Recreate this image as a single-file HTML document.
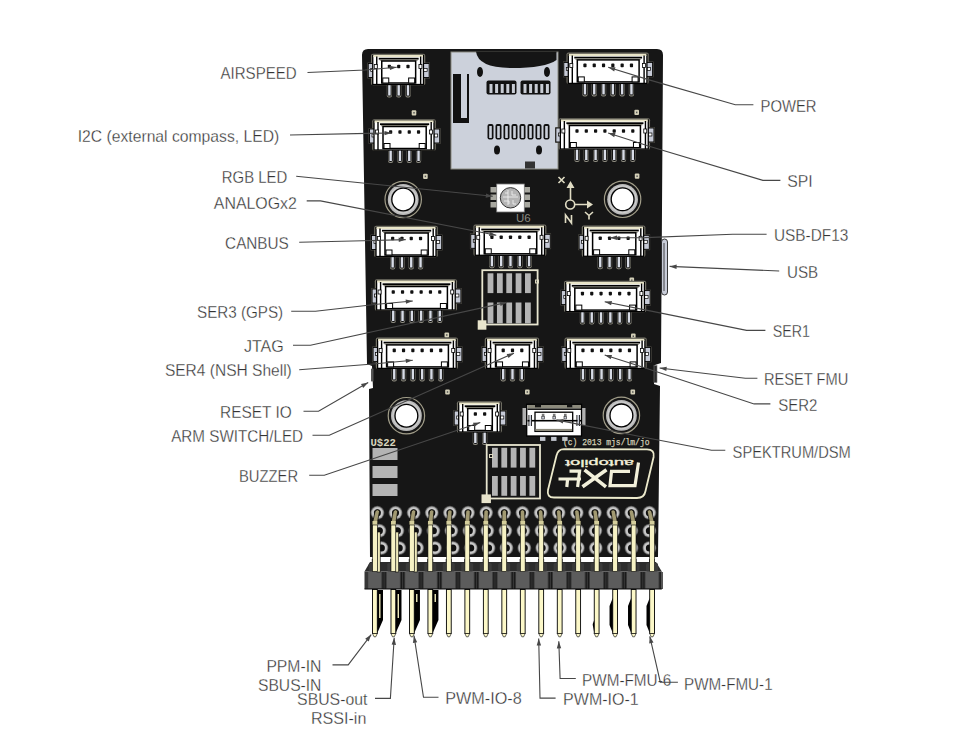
<!DOCTYPE html><html><head><meta charset="utf-8"><style>html,body{margin:0;padding:0;background:#fff;width:957px;height:749px;overflow:hidden}svg{display:block}text{font-family:"Liberation Sans",sans-serif;fill:#333333;font-size:17.3px}text.l{stroke:#fff;stroke-width:0.3px}</style></head><body>
<svg width="957" height="749" viewBox="0 0 957 749">
<rect width="957" height="749" fill="#fff"/>
<path d="M362,55 Q362,49 368,49 L657,49 Q663,49 663,55 L661,363 L655,365 L654,384 L660,386 L658,557 L370,557 L369,389 L373,388 L372,366 L367,364 Z" fill="#161616"/>
<rect x="451" y="52" width="107" height="117" fill="#ccd1db" stroke="#8a8a80" stroke-width="1"/>
<path d="M476,51.5 Q478,68 512,68 Q545,68 556.5,60 L556.5,51.5 Z" fill="#151515"/>
<path d="M453,74 L461,74 L461,118 L467,118 L467,74 L469,74 L469,123 L453,123 Z" fill="#111"/>
<ellipse cx="480" cy="72" rx="3" ry="5" fill="#111"/><ellipse cx="547" cy="72" rx="3" ry="5" fill="#111"/>
<rect x="486.5" y="80.5" width="30" height="14" rx="2" fill="#111"/><rect x="520.5" y="80.5" width="30" height="14" rx="2" fill="#111"/>
<rect x="489.5" y="84" width="3" height="9" fill="#c8ccd4"/>
<rect x="495.1" y="84" width="3" height="9" fill="#c8ccd4"/>
<rect x="500.7" y="84" width="3" height="9" fill="#c8ccd4"/>
<rect x="506.3" y="84" width="3" height="9" fill="#c8ccd4"/>
<rect x="511.9" y="84" width="3" height="9" fill="#c8ccd4"/>
<rect x="523.5" y="84" width="3" height="9" fill="#c8ccd4"/>
<rect x="529.1" y="84" width="3" height="9" fill="#c8ccd4"/>
<rect x="534.7" y="84" width="3" height="9" fill="#c8ccd4"/>
<rect x="540.3" y="84" width="3" height="9" fill="#c8ccd4"/>
<rect x="545.9" y="84" width="3" height="9" fill="#c8ccd4"/>
<rect x="487.5" y="124" width="6" height="15.5" rx="2" fill="#111"/>
<rect x="489.2" y="126" width="2.6" height="12" fill="#ccd1db"/>
<rect x="495.5" y="124" width="6" height="15.5" rx="2" fill="#111"/>
<rect x="497.2" y="126" width="2.6" height="12" fill="#ccd1db"/>
<rect x="503.5" y="124" width="6" height="15.5" rx="2" fill="#111"/>
<rect x="505.2" y="126" width="2.6" height="12" fill="#ccd1db"/>
<rect x="511.5" y="124" width="6" height="15.5" rx="2" fill="#111"/>
<rect x="513.2" y="126" width="2.6" height="12" fill="#ccd1db"/>
<rect x="519.5" y="124" width="6" height="15.5" rx="2" fill="#111"/>
<rect x="521.2" y="126" width="2.6" height="12" fill="#ccd1db"/>
<rect x="527.5" y="124" width="6" height="15.5" rx="2" fill="#111"/>
<rect x="529.2" y="126" width="2.6" height="12" fill="#ccd1db"/>
<rect x="535.5" y="124" width="6" height="15.5" rx="2" fill="#111"/>
<rect x="537.2" y="126" width="2.6" height="12" fill="#ccd1db"/>
<rect x="543.5" y="124" width="6" height="15.5" rx="2" fill="#111"/>
<rect x="545.2" y="126" width="2.6" height="12" fill="#ccd1db"/>
<ellipse cx="497" cy="150" rx="3" ry="4.5" fill="#111"/><ellipse cx="539" cy="150" rx="3" ry="4.5" fill="#111"/>
<rect x="525" y="161.5" width="10" height="7" fill="#333"/>
<circle cx="403.2" cy="199.5" r="18.2" fill="none" stroke="#a29e8a" stroke-width="1.2"/>
<circle cx="403.2" cy="199.5" r="15.4" fill="#bababa"/>
<circle cx="403.2" cy="199.5" r="13.5" fill="none" stroke="#d0d0d0" stroke-width="1"/>
<circle cx="403.2" cy="199.5" r="11.4" fill="#fff" stroke="#000" stroke-width="1.3"/>
<circle cx="622.6" cy="199.3" r="18.2" fill="none" stroke="#a29e8a" stroke-width="1.2"/>
<circle cx="622.6" cy="199.3" r="15.4" fill="#bababa"/>
<circle cx="622.6" cy="199.3" r="13.5" fill="none" stroke="#d0d0d0" stroke-width="1"/>
<circle cx="622.6" cy="199.3" r="11.4" fill="#fff" stroke="#000" stroke-width="1.3"/>
<circle cx="406.4" cy="415.7" r="18.2" fill="none" stroke="#a29e8a" stroke-width="1.2"/>
<circle cx="406.4" cy="415.7" r="15.4" fill="#bababa"/>
<circle cx="406.4" cy="415.7" r="13.5" fill="none" stroke="#d0d0d0" stroke-width="1"/>
<circle cx="406.4" cy="415.7" r="11.4" fill="#fff" stroke="#000" stroke-width="1.3"/>
<circle cx="621.4" cy="415.4" r="18.2" fill="none" stroke="#a29e8a" stroke-width="1.2"/>
<circle cx="621.4" cy="415.4" r="15.4" fill="#bababa"/>
<circle cx="621.4" cy="415.4" r="13.5" fill="none" stroke="#d0d0d0" stroke-width="1"/>
<circle cx="621.4" cy="415.4" r="11.4" fill="#fff" stroke="#000" stroke-width="1.3"/>
<rect x="411.7" y="110.2" width="4.6" height="5.2" rx="1" fill="#d4d0b8"/>
<rect x="413.29999999999995" y="112.0" width="1.4" height="1.6" fill="#555"/>
<rect x="634.4" y="109.80000000000001" width="4.6" height="5.2" rx="1" fill="#d4d0b8"/>
<rect x="636.0" y="111.60000000000001" width="1.4" height="1.6" fill="#555"/>
<rect x="423.1" y="173.8" width="4.6" height="5.2" rx="1" fill="#d4d0b8"/>
<rect x="424.7" y="175.6" width="1.4" height="1.6" fill="#555"/>
<rect x="634.8" y="173.6" width="4.6" height="5.2" rx="1" fill="#d4d0b8"/>
<rect x="636.4" y="175.39999999999998" width="1.4" height="1.6" fill="#555"/>
<rect x="629.5" y="277.59999999999997" width="4.6" height="5.2" rx="1" fill="#d4d0b8"/>
<rect x="631.1" y="279.4" width="1.4" height="1.6" fill="#555"/>
<rect x="444.5" y="332.4" width="4.6" height="5.2" rx="1" fill="#d4d0b8"/>
<rect x="446.09999999999997" y="334.2" width="1.4" height="1.6" fill="#555"/>
<rect x="631.0" y="333.59999999999997" width="4.6" height="5.2" rx="1" fill="#d4d0b8"/>
<rect x="632.6" y="335.4" width="1.4" height="1.6" fill="#555"/>
<rect x="445.2" y="389.4" width="4.6" height="5.2" rx="1" fill="#d4d0b8"/>
<rect x="446.79999999999995" y="391.2" width="1.4" height="1.6" fill="#555"/>
<rect x="525.0" y="389.4" width="4.6" height="5.2" rx="1" fill="#d4d0b8"/>
<rect x="526.6" y="391.2" width="1.4" height="1.6" fill="#555"/>
<rect x="630.5" y="389.4" width="4.6" height="5.2" rx="1" fill="#d4d0b8"/>
<rect x="632.1" y="391.2" width="1.4" height="1.6" fill="#555"/>
<rect x="370.95" y="53.7" width="54.29999999999999" height="31.5" rx="2" fill="#77756a"/>
<rect x="367.45" y="62.7" width="9.6" height="15.6" fill="#6e6c62"/>
<rect x="368.25" y="63.5" width="8" height="14" fill="#c6cad6" stroke="#000" stroke-width="0.9"/>
<rect x="370.75" y="68.5" width="3.5" height="3" fill="#fff" stroke="#000" stroke-width="0.7"/>
<rect x="420.34999999999997" y="62.7" width="9.6" height="15.6" fill="#6e6c62"/>
<rect x="421.15" y="63.5" width="8" height="14" fill="#c6cad6" stroke="#000" stroke-width="0.9"/>
<rect x="423.65" y="68.5" width="3.5" height="3" fill="#fff" stroke="#000" stroke-width="0.7"/>
<rect x="386.79999999999995" y="82.5" width="5.2" height="15" rx="2" fill="#8e8c80"/>
<rect x="387.7" y="83.5" width="3.4" height="12.5" rx="0.8" fill="#d8dce6" stroke="#000" stroke-width="0.9"/>
<rect x="396.09999999999997" y="82.5" width="5.2" height="15" rx="2" fill="#8e8c80"/>
<rect x="397.0" y="83.5" width="3.4" height="12.5" rx="0.8" fill="#d8dce6" stroke="#000" stroke-width="0.9"/>
<rect x="405.4" y="82.5" width="5.2" height="15" rx="2" fill="#8e8c80"/>
<rect x="406.3" y="83.5" width="3.4" height="12.5" rx="0.8" fill="#d8dce6" stroke="#000" stroke-width="0.9"/>
<rect x="372.75" y="55.5" width="50.69999999999999" height="29" fill="#fff" stroke="#000" stroke-width="1.3"/>
<rect x="373.25" y="54.9" width="49.69999999999999" height="2.2" fill="#e8e4c8"/>
<rect x="378.75" y="57.8" width="39.900000000000006" height="1.8" fill="#000"/>
<rect x="379.75" y="59.6" width="37.900000000000006" height="1.2" fill="#8a887a"/>
<path d="M376.75,56.5 V84.5 M420.65,56.5 V84.5" stroke="#000" stroke-width="1.4"/>
<rect x="374.25" y="64.5" width="3" height="4" fill="#fff" stroke="#000" stroke-width="0.8"/>
<rect x="418.95" y="64.5" width="3" height="4" fill="#fff" stroke="#000" stroke-width="0.8"/>
<rect x="381.75" y="61.0" width="33.900000000000006" height="22" fill="#fff" stroke="#000" stroke-width="1.5"/>
<rect x="382.75" y="78.0" width="6" height="5" fill="#fff" stroke="#000" stroke-width="1"/>
<rect x="408.65" y="78.0" width="6" height="5" fill="#fff" stroke="#000" stroke-width="1"/>
<rect x="387.79999999999995" y="64.7" width="3.2" height="3.6" rx="0.8" fill="#111"/>
<rect x="397.09999999999997" y="64.7" width="3.2" height="3.6" rx="0.8" fill="#111"/>
<rect x="406.4" y="64.7" width="3.2" height="3.6" rx="0.8" fill="#111"/>
<rect x="566.5000000000001" y="52.6" width="82.1999999999999" height="31.5" rx="2" fill="#77756a"/>
<rect x="563.0000000000001" y="61.6" width="9.6" height="15.6" fill="#6e6c62"/>
<rect x="563.8000000000001" y="62.4" width="8" height="14" fill="#c6cad6" stroke="#000" stroke-width="0.9"/>
<rect x="566.3000000000001" y="67.4" width="3.5" height="3" fill="#fff" stroke="#000" stroke-width="0.7"/>
<rect x="643.8000000000001" y="61.6" width="9.6" height="15.6" fill="#6e6c62"/>
<rect x="644.6" y="62.4" width="8" height="14" fill="#c6cad6" stroke="#000" stroke-width="0.9"/>
<rect x="647.1" y="67.4" width="3.5" height="3" fill="#fff" stroke="#000" stroke-width="0.7"/>
<rect x="582.35" y="81.4" width="5.2" height="15" rx="2" fill="#8e8c80"/>
<rect x="583.25" y="82.4" width="3.4" height="12.5" rx="0.8" fill="#d8dce6" stroke="#000" stroke-width="0.9"/>
<rect x="591.65" y="81.4" width="5.2" height="15" rx="2" fill="#8e8c80"/>
<rect x="592.55" y="82.4" width="3.4" height="12.5" rx="0.8" fill="#d8dce6" stroke="#000" stroke-width="0.9"/>
<rect x="600.95" y="81.4" width="5.2" height="15" rx="2" fill="#8e8c80"/>
<rect x="601.85" y="82.4" width="3.4" height="12.5" rx="0.8" fill="#d8dce6" stroke="#000" stroke-width="0.9"/>
<rect x="610.25" y="81.4" width="5.2" height="15" rx="2" fill="#8e8c80"/>
<rect x="611.15" y="82.4" width="3.4" height="12.5" rx="0.8" fill="#d8dce6" stroke="#000" stroke-width="0.9"/>
<rect x="619.5500000000001" y="81.4" width="5.2" height="15" rx="2" fill="#8e8c80"/>
<rect x="620.45" y="82.4" width="3.4" height="12.5" rx="0.8" fill="#d8dce6" stroke="#000" stroke-width="0.9"/>
<rect x="628.85" y="81.4" width="5.2" height="15" rx="2" fill="#8e8c80"/>
<rect x="629.75" y="82.4" width="3.4" height="12.5" rx="0.8" fill="#d8dce6" stroke="#000" stroke-width="0.9"/>
<rect x="568.3000000000001" y="54.4" width="78.59999999999991" height="29" fill="#fff" stroke="#000" stroke-width="1.3"/>
<rect x="568.8000000000001" y="53.8" width="77.59999999999991" height="2.2" fill="#e8e4c8"/>
<rect x="574.3000000000001" y="56.699999999999996" width="67.80000000000001" height="1.8" fill="#000"/>
<rect x="575.3000000000001" y="58.5" width="65.80000000000001" height="1.2" fill="#8a887a"/>
<path d="M572.3000000000001,55.4 V83.4 M644.1,55.4 V83.4" stroke="#000" stroke-width="1.4"/>
<rect x="569.8000000000001" y="63.4" width="3" height="4" fill="#fff" stroke="#000" stroke-width="0.8"/>
<rect x="642.4" y="63.4" width="3" height="4" fill="#fff" stroke="#000" stroke-width="0.8"/>
<rect x="577.3000000000001" y="59.9" width="61.800000000000004" height="22" fill="#fff" stroke="#000" stroke-width="1.5"/>
<rect x="578.3000000000001" y="76.9" width="6" height="5" fill="#fff" stroke="#000" stroke-width="1"/>
<rect x="632.1" y="76.9" width="6" height="5" fill="#fff" stroke="#000" stroke-width="1"/>
<rect x="583.35" y="63.599999999999994" width="3.2" height="3.6" rx="0.8" fill="#111"/>
<rect x="592.65" y="63.599999999999994" width="3.2" height="3.6" rx="0.8" fill="#111"/>
<rect x="601.95" y="63.599999999999994" width="3.2" height="3.6" rx="0.8" fill="#111"/>
<rect x="611.25" y="63.599999999999994" width="3.2" height="3.6" rx="0.8" fill="#111"/>
<rect x="620.5500000000001" y="63.599999999999994" width="3.2" height="3.6" rx="0.8" fill="#111"/>
<rect x="629.85" y="63.599999999999994" width="3.2" height="3.6" rx="0.8" fill="#111"/>
<rect x="372.2" y="119.2" width="63.60000000000006" height="31.5" rx="2" fill="#77756a"/>
<rect x="368.7" y="128.2" width="9.6" height="15.6" fill="#6e6c62"/>
<rect x="369.5" y="129" width="8" height="14" fill="#c6cad6" stroke="#000" stroke-width="0.9"/>
<rect x="372.0" y="134" width="3.5" height="3" fill="#fff" stroke="#000" stroke-width="0.7"/>
<rect x="430.90000000000003" y="128.2" width="9.6" height="15.6" fill="#6e6c62"/>
<rect x="431.70000000000005" y="129" width="8" height="14" fill="#c6cad6" stroke="#000" stroke-width="0.9"/>
<rect x="434.20000000000005" y="134" width="3.5" height="3" fill="#fff" stroke="#000" stroke-width="0.7"/>
<rect x="388.05" y="148" width="5.2" height="15" rx="2" fill="#8e8c80"/>
<rect x="388.95000000000005" y="149" width="3.4" height="12.5" rx="0.8" fill="#d8dce6" stroke="#000" stroke-width="0.9"/>
<rect x="397.35" y="148" width="5.2" height="15" rx="2" fill="#8e8c80"/>
<rect x="398.25000000000006" y="149" width="3.4" height="12.5" rx="0.8" fill="#d8dce6" stroke="#000" stroke-width="0.9"/>
<rect x="406.65000000000003" y="148" width="5.2" height="15" rx="2" fill="#8e8c80"/>
<rect x="407.55000000000007" y="149" width="3.4" height="12.5" rx="0.8" fill="#d8dce6" stroke="#000" stroke-width="0.9"/>
<rect x="415.95" y="148" width="5.2" height="15" rx="2" fill="#8e8c80"/>
<rect x="416.85" y="149" width="3.4" height="12.5" rx="0.8" fill="#d8dce6" stroke="#000" stroke-width="0.9"/>
<rect x="374.0" y="121" width="60.00000000000006" height="29" fill="#fff" stroke="#000" stroke-width="1.3"/>
<rect x="374.5" y="120.4" width="59.00000000000006" height="2.2" fill="#e8e4c8"/>
<rect x="380.0" y="123.3" width="49.2" height="1.8" fill="#000"/>
<rect x="381.0" y="125.1" width="47.2" height="1.2" fill="#8a887a"/>
<path d="M378.0,122 V150 M431.20000000000005,122 V150" stroke="#000" stroke-width="1.4"/>
<rect x="375.5" y="130" width="3" height="4" fill="#fff" stroke="#000" stroke-width="0.8"/>
<rect x="429.50000000000006" y="130" width="3" height="4" fill="#fff" stroke="#000" stroke-width="0.8"/>
<rect x="383.0" y="126.5" width="43.2" height="22" fill="#fff" stroke="#000" stroke-width="1.5"/>
<rect x="384.0" y="143.5" width="6" height="5" fill="#fff" stroke="#000" stroke-width="1"/>
<rect x="419.20000000000005" y="143.5" width="6" height="5" fill="#fff" stroke="#000" stroke-width="1"/>
<rect x="389.05" y="130.2" width="3.2" height="3.6" rx="0.8" fill="#111"/>
<rect x="398.35" y="130.2" width="3.2" height="3.6" rx="0.8" fill="#111"/>
<rect x="407.65000000000003" y="130.2" width="3.2" height="3.6" rx="0.8" fill="#111"/>
<rect x="416.95" y="130.2" width="3.2" height="3.6" rx="0.8" fill="#111"/>
<rect x="558.5500000000001" y="118.2" width="91.49999999999986" height="31.5" rx="2" fill="#77756a"/>
<rect x="555.0500000000001" y="127.2" width="9.6" height="15.6" fill="#6e6c62"/>
<rect x="555.85" y="128" width="8" height="14" fill="#c6cad6" stroke="#000" stroke-width="0.9"/>
<rect x="558.35" y="133" width="3.5" height="3" fill="#fff" stroke="#000" stroke-width="0.7"/>
<rect x="645.15" y="127.2" width="9.6" height="15.6" fill="#6e6c62"/>
<rect x="645.9499999999999" y="128" width="8" height="14" fill="#c6cad6" stroke="#000" stroke-width="0.9"/>
<rect x="648.4499999999999" y="133" width="3.5" height="3" fill="#fff" stroke="#000" stroke-width="0.7"/>
<rect x="574.4" y="147" width="5.2" height="15" rx="2" fill="#8e8c80"/>
<rect x="575.3" y="148" width="3.4" height="12.5" rx="0.8" fill="#d8dce6" stroke="#000" stroke-width="0.9"/>
<rect x="583.6999999999999" y="147" width="5.2" height="15" rx="2" fill="#8e8c80"/>
<rect x="584.5999999999999" y="148" width="3.4" height="12.5" rx="0.8" fill="#d8dce6" stroke="#000" stroke-width="0.9"/>
<rect x="593.0" y="147" width="5.2" height="15" rx="2" fill="#8e8c80"/>
<rect x="593.9" y="148" width="3.4" height="12.5" rx="0.8" fill="#d8dce6" stroke="#000" stroke-width="0.9"/>
<rect x="602.3" y="147" width="5.2" height="15" rx="2" fill="#8e8c80"/>
<rect x="603.1999999999999" y="148" width="3.4" height="12.5" rx="0.8" fill="#d8dce6" stroke="#000" stroke-width="0.9"/>
<rect x="611.6" y="147" width="5.2" height="15" rx="2" fill="#8e8c80"/>
<rect x="612.5" y="148" width="3.4" height="12.5" rx="0.8" fill="#d8dce6" stroke="#000" stroke-width="0.9"/>
<rect x="620.9" y="147" width="5.2" height="15" rx="2" fill="#8e8c80"/>
<rect x="621.8" y="148" width="3.4" height="12.5" rx="0.8" fill="#d8dce6" stroke="#000" stroke-width="0.9"/>
<rect x="630.1999999999999" y="147" width="5.2" height="15" rx="2" fill="#8e8c80"/>
<rect x="631.0999999999999" y="148" width="3.4" height="12.5" rx="0.8" fill="#d8dce6" stroke="#000" stroke-width="0.9"/>
<rect x="560.35" y="120" width="87.89999999999986" height="29" fill="#fff" stroke="#000" stroke-width="1.3"/>
<rect x="560.85" y="119.4" width="86.89999999999986" height="2.2" fill="#e8e4c8"/>
<rect x="566.35" y="122.3" width="77.10000000000001" height="1.8" fill="#000"/>
<rect x="567.35" y="124.1" width="75.10000000000001" height="1.2" fill="#8a887a"/>
<path d="M564.35,121 V149 M645.4499999999999,121 V149" stroke="#000" stroke-width="1.4"/>
<rect x="561.85" y="129" width="3" height="4" fill="#fff" stroke="#000" stroke-width="0.8"/>
<rect x="643.7499999999999" y="129" width="3" height="4" fill="#fff" stroke="#000" stroke-width="0.8"/>
<rect x="569.35" y="125.5" width="71.10000000000001" height="22" fill="#fff" stroke="#000" stroke-width="1.5"/>
<rect x="570.35" y="142.5" width="6" height="5" fill="#fff" stroke="#000" stroke-width="1"/>
<rect x="633.4499999999999" y="142.5" width="6" height="5" fill="#fff" stroke="#000" stroke-width="1"/>
<rect x="575.4" y="129.2" width="3.2" height="3.6" rx="0.8" fill="#111"/>
<rect x="584.6999999999999" y="129.2" width="3.2" height="3.6" rx="0.8" fill="#111"/>
<rect x="594.0" y="129.2" width="3.2" height="3.6" rx="0.8" fill="#111"/>
<rect x="603.3" y="129.2" width="3.2" height="3.6" rx="0.8" fill="#111"/>
<rect x="612.6" y="129.2" width="3.2" height="3.6" rx="0.8" fill="#111"/>
<rect x="621.9" y="129.2" width="3.2" height="3.6" rx="0.8" fill="#111"/>
<rect x="631.1999999999999" y="129.2" width="3.2" height="3.6" rx="0.8" fill="#111"/>
<rect x="374.2" y="225.7" width="63.60000000000006" height="31.5" rx="2" fill="#77756a"/>
<rect x="370.7" y="234.7" width="9.6" height="15.6" fill="#6e6c62"/>
<rect x="371.5" y="235.5" width="8" height="14" fill="#c6cad6" stroke="#000" stroke-width="0.9"/>
<rect x="374.0" y="240.5" width="3.5" height="3" fill="#fff" stroke="#000" stroke-width="0.7"/>
<rect x="432.90000000000003" y="234.7" width="9.6" height="15.6" fill="#6e6c62"/>
<rect x="433.70000000000005" y="235.5" width="8" height="14" fill="#c6cad6" stroke="#000" stroke-width="0.9"/>
<rect x="436.20000000000005" y="240.5" width="3.5" height="3" fill="#fff" stroke="#000" stroke-width="0.7"/>
<rect x="390.05" y="254.5" width="5.2" height="15" rx="2" fill="#8e8c80"/>
<rect x="390.95000000000005" y="255.5" width="3.4" height="12.5" rx="0.8" fill="#d8dce6" stroke="#000" stroke-width="0.9"/>
<rect x="399.35" y="254.5" width="5.2" height="15" rx="2" fill="#8e8c80"/>
<rect x="400.25000000000006" y="255.5" width="3.4" height="12.5" rx="0.8" fill="#d8dce6" stroke="#000" stroke-width="0.9"/>
<rect x="408.65000000000003" y="254.5" width="5.2" height="15" rx="2" fill="#8e8c80"/>
<rect x="409.55000000000007" y="255.5" width="3.4" height="12.5" rx="0.8" fill="#d8dce6" stroke="#000" stroke-width="0.9"/>
<rect x="417.95" y="254.5" width="5.2" height="15" rx="2" fill="#8e8c80"/>
<rect x="418.85" y="255.5" width="3.4" height="12.5" rx="0.8" fill="#d8dce6" stroke="#000" stroke-width="0.9"/>
<rect x="376.0" y="227.5" width="60.00000000000006" height="29" fill="#fff" stroke="#000" stroke-width="1.3"/>
<rect x="376.5" y="226.9" width="59.00000000000006" height="2.2" fill="#e8e4c8"/>
<rect x="382.0" y="229.8" width="49.2" height="1.8" fill="#000"/>
<rect x="383.0" y="231.6" width="47.2" height="1.2" fill="#8a887a"/>
<path d="M380.0,228.5 V256.5 M433.20000000000005,228.5 V256.5" stroke="#000" stroke-width="1.4"/>
<rect x="377.5" y="236.5" width="3" height="4" fill="#fff" stroke="#000" stroke-width="0.8"/>
<rect x="431.50000000000006" y="236.5" width="3" height="4" fill="#fff" stroke="#000" stroke-width="0.8"/>
<rect x="385.0" y="233.0" width="43.2" height="22" fill="#fff" stroke="#000" stroke-width="1.5"/>
<rect x="386.0" y="250.0" width="6" height="5" fill="#fff" stroke="#000" stroke-width="1"/>
<rect x="421.20000000000005" y="250.0" width="6" height="5" fill="#fff" stroke="#000" stroke-width="1"/>
<rect x="391.05" y="236.7" width="3.2" height="3.6" rx="0.8" fill="#111"/>
<rect x="400.35" y="236.7" width="3.2" height="3.6" rx="0.8" fill="#111"/>
<rect x="409.65000000000003" y="236.7" width="3.2" height="3.6" rx="0.8" fill="#111"/>
<rect x="418.95" y="236.7" width="3.2" height="3.6" rx="0.8" fill="#111"/>
<rect x="473.45" y="224.5" width="72.89999999999995" height="31.5" rx="2" fill="#77756a"/>
<rect x="469.95" y="233.5" width="9.6" height="15.6" fill="#6e6c62"/>
<rect x="470.75" y="234.3" width="8" height="14" fill="#c6cad6" stroke="#000" stroke-width="0.9"/>
<rect x="473.25" y="239.3" width="3.5" height="3" fill="#fff" stroke="#000" stroke-width="0.7"/>
<rect x="541.45" y="233.5" width="9.6" height="15.6" fill="#6e6c62"/>
<rect x="542.25" y="234.3" width="8" height="14" fill="#c6cad6" stroke="#000" stroke-width="0.9"/>
<rect x="544.75" y="239.3" width="3.5" height="3" fill="#fff" stroke="#000" stroke-width="0.7"/>
<rect x="489.29999999999995" y="253.3" width="5.2" height="15" rx="2" fill="#8e8c80"/>
<rect x="490.2" y="254.3" width="3.4" height="12.5" rx="0.8" fill="#d8dce6" stroke="#000" stroke-width="0.9"/>
<rect x="498.59999999999997" y="253.3" width="5.2" height="15" rx="2" fill="#8e8c80"/>
<rect x="499.5" y="254.3" width="3.4" height="12.5" rx="0.8" fill="#d8dce6" stroke="#000" stroke-width="0.9"/>
<rect x="507.9" y="253.3" width="5.2" height="15" rx="2" fill="#8e8c80"/>
<rect x="508.8" y="254.3" width="3.4" height="12.5" rx="0.8" fill="#d8dce6" stroke="#000" stroke-width="0.9"/>
<rect x="517.1999999999999" y="253.3" width="5.2" height="15" rx="2" fill="#8e8c80"/>
<rect x="518.0999999999999" y="254.3" width="3.4" height="12.5" rx="0.8" fill="#d8dce6" stroke="#000" stroke-width="0.9"/>
<rect x="526.5" y="253.3" width="5.2" height="15" rx="2" fill="#8e8c80"/>
<rect x="527.4" y="254.3" width="3.4" height="12.5" rx="0.8" fill="#d8dce6" stroke="#000" stroke-width="0.9"/>
<rect x="475.25" y="226.3" width="69.29999999999995" height="29" fill="#fff" stroke="#000" stroke-width="1.3"/>
<rect x="475.75" y="225.70000000000002" width="68.29999999999995" height="2.2" fill="#e8e4c8"/>
<rect x="481.25" y="228.60000000000002" width="58.5" height="1.8" fill="#000"/>
<rect x="482.25" y="230.4" width="56.5" height="1.2" fill="#8a887a"/>
<path d="M479.25,227.3 V255.3 M541.75,227.3 V255.3" stroke="#000" stroke-width="1.4"/>
<rect x="476.75" y="235.3" width="3" height="4" fill="#fff" stroke="#000" stroke-width="0.8"/>
<rect x="540.05" y="235.3" width="3" height="4" fill="#fff" stroke="#000" stroke-width="0.8"/>
<rect x="484.25" y="231.8" width="52.5" height="22" fill="#fff" stroke="#000" stroke-width="1.5"/>
<rect x="485.25" y="248.8" width="6" height="5" fill="#fff" stroke="#000" stroke-width="1"/>
<rect x="529.75" y="248.8" width="6" height="5" fill="#fff" stroke="#000" stroke-width="1"/>
<rect x="490.29999999999995" y="235.5" width="3.2" height="3.6" rx="0.8" fill="#111"/>
<rect x="499.59999999999997" y="235.5" width="3.2" height="3.6" rx="0.8" fill="#111"/>
<rect x="508.9" y="235.5" width="3.2" height="3.6" rx="0.8" fill="#111"/>
<rect x="518.1999999999999" y="235.5" width="3.2" height="3.6" rx="0.8" fill="#111"/>
<rect x="527.5" y="235.5" width="3.2" height="3.6" rx="0.8" fill="#111"/>
<rect x="581.8000000000001" y="225.5" width="63.6" height="31.5" rx="2" fill="#77756a"/>
<rect x="578.3000000000001" y="234.5" width="9.6" height="15.6" fill="#6e6c62"/>
<rect x="579.1" y="235.3" width="8" height="14" fill="#c6cad6" stroke="#000" stroke-width="0.9"/>
<rect x="581.6" y="240.3" width="3.5" height="3" fill="#fff" stroke="#000" stroke-width="0.7"/>
<rect x="640.5000000000001" y="234.5" width="9.6" height="15.6" fill="#6e6c62"/>
<rect x="641.3000000000001" y="235.3" width="8" height="14" fill="#c6cad6" stroke="#000" stroke-width="0.9"/>
<rect x="643.8000000000001" y="240.3" width="3.5" height="3" fill="#fff" stroke="#000" stroke-width="0.7"/>
<rect x="597.65" y="254.3" width="5.2" height="15" rx="2" fill="#8e8c80"/>
<rect x="598.55" y="255.3" width="3.4" height="12.5" rx="0.8" fill="#d8dce6" stroke="#000" stroke-width="0.9"/>
<rect x="606.9499999999999" y="254.3" width="5.2" height="15" rx="2" fill="#8e8c80"/>
<rect x="607.8499999999999" y="255.3" width="3.4" height="12.5" rx="0.8" fill="#d8dce6" stroke="#000" stroke-width="0.9"/>
<rect x="616.25" y="254.3" width="5.2" height="15" rx="2" fill="#8e8c80"/>
<rect x="617.15" y="255.3" width="3.4" height="12.5" rx="0.8" fill="#d8dce6" stroke="#000" stroke-width="0.9"/>
<rect x="625.55" y="254.3" width="5.2" height="15" rx="2" fill="#8e8c80"/>
<rect x="626.4499999999999" y="255.3" width="3.4" height="12.5" rx="0.8" fill="#d8dce6" stroke="#000" stroke-width="0.9"/>
<rect x="583.6" y="227.3" width="60.0" height="29" fill="#fff" stroke="#000" stroke-width="1.3"/>
<rect x="584.1" y="226.70000000000002" width="59.0" height="2.2" fill="#e8e4c8"/>
<rect x="589.6" y="229.60000000000002" width="49.2" height="1.8" fill="#000"/>
<rect x="590.6" y="231.4" width="47.2" height="1.2" fill="#8a887a"/>
<path d="M587.6,228.3 V256.3 M640.8000000000001,228.3 V256.3" stroke="#000" stroke-width="1.4"/>
<rect x="585.1" y="236.3" width="3" height="4" fill="#fff" stroke="#000" stroke-width="0.8"/>
<rect x="639.1" y="236.3" width="3" height="4" fill="#fff" stroke="#000" stroke-width="0.8"/>
<rect x="592.6" y="232.8" width="43.2" height="22" fill="#fff" stroke="#000" stroke-width="1.5"/>
<rect x="593.6" y="249.8" width="6" height="5" fill="#fff" stroke="#000" stroke-width="1"/>
<rect x="628.8000000000001" y="249.8" width="6" height="5" fill="#fff" stroke="#000" stroke-width="1"/>
<rect x="598.65" y="236.5" width="3.2" height="3.6" rx="0.8" fill="#111"/>
<rect x="607.9499999999999" y="236.5" width="3.2" height="3.6" rx="0.8" fill="#111"/>
<rect x="617.25" y="236.5" width="3.2" height="3.6" rx="0.8" fill="#111"/>
<rect x="626.55" y="236.5" width="3.2" height="3.6" rx="0.8" fill="#111"/>
<rect x="374.8" y="279.2" width="82.19999999999996" height="31.5" rx="2" fill="#77756a"/>
<rect x="371.3" y="288.2" width="9.6" height="15.6" fill="#6e6c62"/>
<rect x="372.1" y="289" width="8" height="14" fill="#c6cad6" stroke="#000" stroke-width="0.9"/>
<rect x="374.6" y="294" width="3.5" height="3" fill="#fff" stroke="#000" stroke-width="0.7"/>
<rect x="452.09999999999997" y="288.2" width="9.6" height="15.6" fill="#6e6c62"/>
<rect x="452.9" y="289" width="8" height="14" fill="#c6cad6" stroke="#000" stroke-width="0.9"/>
<rect x="455.4" y="294" width="3.5" height="3" fill="#fff" stroke="#000" stroke-width="0.7"/>
<rect x="390.65" y="308" width="5.2" height="15" rx="2" fill="#8e8c80"/>
<rect x="391.55" y="309" width="3.4" height="12.5" rx="0.8" fill="#d8dce6" stroke="#000" stroke-width="0.9"/>
<rect x="399.95" y="308" width="5.2" height="15" rx="2" fill="#8e8c80"/>
<rect x="400.85" y="309" width="3.4" height="12.5" rx="0.8" fill="#d8dce6" stroke="#000" stroke-width="0.9"/>
<rect x="409.25" y="308" width="5.2" height="15" rx="2" fill="#8e8c80"/>
<rect x="410.15000000000003" y="309" width="3.4" height="12.5" rx="0.8" fill="#d8dce6" stroke="#000" stroke-width="0.9"/>
<rect x="418.54999999999995" y="308" width="5.2" height="15" rx="2" fill="#8e8c80"/>
<rect x="419.45" y="309" width="3.4" height="12.5" rx="0.8" fill="#d8dce6" stroke="#000" stroke-width="0.9"/>
<rect x="427.84999999999997" y="308" width="5.2" height="15" rx="2" fill="#8e8c80"/>
<rect x="428.75" y="309" width="3.4" height="12.5" rx="0.8" fill="#d8dce6" stroke="#000" stroke-width="0.9"/>
<rect x="437.15" y="308" width="5.2" height="15" rx="2" fill="#8e8c80"/>
<rect x="438.05" y="309" width="3.4" height="12.5" rx="0.8" fill="#d8dce6" stroke="#000" stroke-width="0.9"/>
<rect x="376.6" y="281" width="78.59999999999997" height="29" fill="#fff" stroke="#000" stroke-width="1.3"/>
<rect x="377.1" y="280.4" width="77.59999999999997" height="2.2" fill="#e8e4c8"/>
<rect x="382.6" y="283.3" width="67.80000000000001" height="1.8" fill="#000"/>
<rect x="383.6" y="285.1" width="65.80000000000001" height="1.2" fill="#8a887a"/>
<path d="M380.6,282 V310 M452.4,282 V310" stroke="#000" stroke-width="1.4"/>
<rect x="378.1" y="290" width="3" height="4" fill="#fff" stroke="#000" stroke-width="0.8"/>
<rect x="450.7" y="290" width="3" height="4" fill="#fff" stroke="#000" stroke-width="0.8"/>
<rect x="385.6" y="286.5" width="61.800000000000004" height="22" fill="#fff" stroke="#000" stroke-width="1.5"/>
<rect x="386.6" y="303.5" width="6" height="5" fill="#fff" stroke="#000" stroke-width="1"/>
<rect x="440.4" y="303.5" width="6" height="5" fill="#fff" stroke="#000" stroke-width="1"/>
<rect x="391.65" y="290.2" width="3.2" height="3.6" rx="0.8" fill="#111"/>
<rect x="400.95" y="290.2" width="3.2" height="3.6" rx="0.8" fill="#111"/>
<rect x="410.25" y="290.2" width="3.2" height="3.6" rx="0.8" fill="#111"/>
<rect x="419.54999999999995" y="290.2" width="3.2" height="3.6" rx="0.8" fill="#111"/>
<rect x="428.84999999999997" y="290.2" width="3.2" height="3.6" rx="0.8" fill="#111"/>
<rect x="438.15" y="290.2" width="3.2" height="3.6" rx="0.8" fill="#111"/>
<rect x="564.0000000000001" y="280.8" width="82.1999999999999" height="31.5" rx="2" fill="#77756a"/>
<rect x="560.5000000000001" y="289.8" width="9.6" height="15.6" fill="#6e6c62"/>
<rect x="561.3000000000001" y="290.6" width="8" height="14" fill="#c6cad6" stroke="#000" stroke-width="0.9"/>
<rect x="563.8000000000001" y="295.6" width="3.5" height="3" fill="#fff" stroke="#000" stroke-width="0.7"/>
<rect x="641.3000000000001" y="289.8" width="9.6" height="15.6" fill="#6e6c62"/>
<rect x="642.1" y="290.6" width="8" height="14" fill="#c6cad6" stroke="#000" stroke-width="0.9"/>
<rect x="644.6" y="295.6" width="3.5" height="3" fill="#fff" stroke="#000" stroke-width="0.7"/>
<rect x="579.85" y="309.6" width="5.2" height="15" rx="2" fill="#8e8c80"/>
<rect x="580.75" y="310.6" width="3.4" height="12.5" rx="0.8" fill="#d8dce6" stroke="#000" stroke-width="0.9"/>
<rect x="589.15" y="309.6" width="5.2" height="15" rx="2" fill="#8e8c80"/>
<rect x="590.05" y="310.6" width="3.4" height="12.5" rx="0.8" fill="#d8dce6" stroke="#000" stroke-width="0.9"/>
<rect x="598.45" y="309.6" width="5.2" height="15" rx="2" fill="#8e8c80"/>
<rect x="599.35" y="310.6" width="3.4" height="12.5" rx="0.8" fill="#d8dce6" stroke="#000" stroke-width="0.9"/>
<rect x="607.75" y="309.6" width="5.2" height="15" rx="2" fill="#8e8c80"/>
<rect x="608.65" y="310.6" width="3.4" height="12.5" rx="0.8" fill="#d8dce6" stroke="#000" stroke-width="0.9"/>
<rect x="617.0500000000001" y="309.6" width="5.2" height="15" rx="2" fill="#8e8c80"/>
<rect x="617.95" y="310.6" width="3.4" height="12.5" rx="0.8" fill="#d8dce6" stroke="#000" stroke-width="0.9"/>
<rect x="626.35" y="309.6" width="5.2" height="15" rx="2" fill="#8e8c80"/>
<rect x="627.25" y="310.6" width="3.4" height="12.5" rx="0.8" fill="#d8dce6" stroke="#000" stroke-width="0.9"/>
<rect x="565.8000000000001" y="282.6" width="78.59999999999991" height="29" fill="#fff" stroke="#000" stroke-width="1.3"/>
<rect x="566.3000000000001" y="282.0" width="77.59999999999991" height="2.2" fill="#e8e4c8"/>
<rect x="571.8000000000001" y="284.90000000000003" width="67.80000000000001" height="1.8" fill="#000"/>
<rect x="572.8000000000001" y="286.70000000000005" width="65.80000000000001" height="1.2" fill="#8a887a"/>
<path d="M569.8000000000001,283.6 V311.6 M641.6,283.6 V311.6" stroke="#000" stroke-width="1.4"/>
<rect x="567.3000000000001" y="291.6" width="3" height="4" fill="#fff" stroke="#000" stroke-width="0.8"/>
<rect x="639.9" y="291.6" width="3" height="4" fill="#fff" stroke="#000" stroke-width="0.8"/>
<rect x="574.8000000000001" y="288.1" width="61.800000000000004" height="22" fill="#fff" stroke="#000" stroke-width="1.5"/>
<rect x="575.8000000000001" y="305.1" width="6" height="5" fill="#fff" stroke="#000" stroke-width="1"/>
<rect x="629.6" y="305.1" width="6" height="5" fill="#fff" stroke="#000" stroke-width="1"/>
<rect x="580.85" y="291.8" width="3.2" height="3.6" rx="0.8" fill="#111"/>
<rect x="590.15" y="291.8" width="3.2" height="3.6" rx="0.8" fill="#111"/>
<rect x="599.45" y="291.8" width="3.2" height="3.6" rx="0.8" fill="#111"/>
<rect x="608.75" y="291.8" width="3.2" height="3.6" rx="0.8" fill="#111"/>
<rect x="618.0500000000001" y="291.8" width="3.2" height="3.6" rx="0.8" fill="#111"/>
<rect x="627.35" y="291.8" width="3.2" height="3.6" rx="0.8" fill="#111"/>
<rect x="375.8" y="337.59999999999997" width="82.19999999999996" height="31.5" rx="2" fill="#77756a"/>
<rect x="372.3" y="346.59999999999997" width="9.6" height="15.6" fill="#6e6c62"/>
<rect x="373.1" y="347.4" width="8" height="14" fill="#c6cad6" stroke="#000" stroke-width="0.9"/>
<rect x="375.6" y="352.4" width="3.5" height="3" fill="#fff" stroke="#000" stroke-width="0.7"/>
<rect x="453.09999999999997" y="346.59999999999997" width="9.6" height="15.6" fill="#6e6c62"/>
<rect x="453.9" y="347.4" width="8" height="14" fill="#c6cad6" stroke="#000" stroke-width="0.9"/>
<rect x="456.4" y="352.4" width="3.5" height="3" fill="#fff" stroke="#000" stroke-width="0.7"/>
<rect x="391.65" y="366.4" width="5.2" height="15" rx="2" fill="#8e8c80"/>
<rect x="392.55" y="367.4" width="3.4" height="12.5" rx="0.8" fill="#d8dce6" stroke="#000" stroke-width="0.9"/>
<rect x="400.95" y="366.4" width="5.2" height="15" rx="2" fill="#8e8c80"/>
<rect x="401.85" y="367.4" width="3.4" height="12.5" rx="0.8" fill="#d8dce6" stroke="#000" stroke-width="0.9"/>
<rect x="410.25" y="366.4" width="5.2" height="15" rx="2" fill="#8e8c80"/>
<rect x="411.15000000000003" y="367.4" width="3.4" height="12.5" rx="0.8" fill="#d8dce6" stroke="#000" stroke-width="0.9"/>
<rect x="419.54999999999995" y="366.4" width="5.2" height="15" rx="2" fill="#8e8c80"/>
<rect x="420.45" y="367.4" width="3.4" height="12.5" rx="0.8" fill="#d8dce6" stroke="#000" stroke-width="0.9"/>
<rect x="428.84999999999997" y="366.4" width="5.2" height="15" rx="2" fill="#8e8c80"/>
<rect x="429.75" y="367.4" width="3.4" height="12.5" rx="0.8" fill="#d8dce6" stroke="#000" stroke-width="0.9"/>
<rect x="438.15" y="366.4" width="5.2" height="15" rx="2" fill="#8e8c80"/>
<rect x="439.05" y="367.4" width="3.4" height="12.5" rx="0.8" fill="#d8dce6" stroke="#000" stroke-width="0.9"/>
<rect x="377.6" y="339.4" width="78.59999999999997" height="29" fill="#fff" stroke="#000" stroke-width="1.3"/>
<rect x="378.1" y="338.79999999999995" width="77.59999999999997" height="2.2" fill="#e8e4c8"/>
<rect x="383.6" y="341.7" width="67.80000000000001" height="1.8" fill="#000"/>
<rect x="384.6" y="343.5" width="65.80000000000001" height="1.2" fill="#8a887a"/>
<path d="M381.6,340.4 V368.4 M453.4,340.4 V368.4" stroke="#000" stroke-width="1.4"/>
<rect x="379.1" y="348.4" width="3" height="4" fill="#fff" stroke="#000" stroke-width="0.8"/>
<rect x="451.7" y="348.4" width="3" height="4" fill="#fff" stroke="#000" stroke-width="0.8"/>
<rect x="386.6" y="344.9" width="61.800000000000004" height="22" fill="#fff" stroke="#000" stroke-width="1.5"/>
<rect x="387.6" y="361.9" width="6" height="5" fill="#fff" stroke="#000" stroke-width="1"/>
<rect x="441.4" y="361.9" width="6" height="5" fill="#fff" stroke="#000" stroke-width="1"/>
<rect x="392.65" y="348.59999999999997" width="3.2" height="3.6" rx="0.8" fill="#111"/>
<rect x="401.95" y="348.59999999999997" width="3.2" height="3.6" rx="0.8" fill="#111"/>
<rect x="411.25" y="348.59999999999997" width="3.2" height="3.6" rx="0.8" fill="#111"/>
<rect x="420.54999999999995" y="348.59999999999997" width="3.2" height="3.6" rx="0.8" fill="#111"/>
<rect x="429.84999999999997" y="348.59999999999997" width="3.2" height="3.6" rx="0.8" fill="#111"/>
<rect x="439.15" y="348.59999999999997" width="3.2" height="3.6" rx="0.8" fill="#111"/>
<rect x="484.75" y="337.59999999999997" width="54.29999999999999" height="31.5" rx="2" fill="#77756a"/>
<rect x="481.25" y="346.59999999999997" width="9.6" height="15.6" fill="#6e6c62"/>
<rect x="482.05" y="347.4" width="8" height="14" fill="#c6cad6" stroke="#000" stroke-width="0.9"/>
<rect x="484.55" y="352.4" width="3.5" height="3" fill="#fff" stroke="#000" stroke-width="0.7"/>
<rect x="534.1500000000001" y="346.59999999999997" width="9.6" height="15.6" fill="#6e6c62"/>
<rect x="534.95" y="347.4" width="8" height="14" fill="#c6cad6" stroke="#000" stroke-width="0.9"/>
<rect x="537.45" y="352.4" width="3.5" height="3" fill="#fff" stroke="#000" stroke-width="0.7"/>
<rect x="500.59999999999997" y="366.4" width="5.2" height="15" rx="2" fill="#8e8c80"/>
<rect x="501.5" y="367.4" width="3.4" height="12.5" rx="0.8" fill="#d8dce6" stroke="#000" stroke-width="0.9"/>
<rect x="509.9" y="366.4" width="5.2" height="15" rx="2" fill="#8e8c80"/>
<rect x="510.8" y="367.4" width="3.4" height="12.5" rx="0.8" fill="#d8dce6" stroke="#000" stroke-width="0.9"/>
<rect x="519.1999999999999" y="366.4" width="5.2" height="15" rx="2" fill="#8e8c80"/>
<rect x="520.0999999999999" y="367.4" width="3.4" height="12.5" rx="0.8" fill="#d8dce6" stroke="#000" stroke-width="0.9"/>
<rect x="486.55" y="339.4" width="50.69999999999999" height="29" fill="#fff" stroke="#000" stroke-width="1.3"/>
<rect x="487.05" y="338.79999999999995" width="49.69999999999999" height="2.2" fill="#e8e4c8"/>
<rect x="492.55" y="341.7" width="39.900000000000006" height="1.8" fill="#000"/>
<rect x="493.55" y="343.5" width="37.900000000000006" height="1.2" fill="#8a887a"/>
<path d="M490.55,340.4 V368.4 M534.45,340.4 V368.4" stroke="#000" stroke-width="1.4"/>
<rect x="488.05" y="348.4" width="3" height="4" fill="#fff" stroke="#000" stroke-width="0.8"/>
<rect x="532.75" y="348.4" width="3" height="4" fill="#fff" stroke="#000" stroke-width="0.8"/>
<rect x="495.55" y="344.9" width="33.900000000000006" height="22" fill="#fff" stroke="#000" stroke-width="1.5"/>
<rect x="496.55" y="361.9" width="6" height="5" fill="#fff" stroke="#000" stroke-width="1"/>
<rect x="522.45" y="361.9" width="6" height="5" fill="#fff" stroke="#000" stroke-width="1"/>
<rect x="501.59999999999997" y="348.59999999999997" width="3.2" height="3.6" rx="0.8" fill="#111"/>
<rect x="510.9" y="348.59999999999997" width="3.2" height="3.6" rx="0.8" fill="#111"/>
<rect x="520.1999999999999" y="348.59999999999997" width="3.2" height="3.6" rx="0.8" fill="#111"/>
<rect x="564.5000000000001" y="337.59999999999997" width="82.1999999999999" height="31.5" rx="2" fill="#77756a"/>
<rect x="561.0000000000001" y="346.59999999999997" width="9.6" height="15.6" fill="#6e6c62"/>
<rect x="561.8000000000001" y="347.4" width="8" height="14" fill="#c6cad6" stroke="#000" stroke-width="0.9"/>
<rect x="564.3000000000001" y="352.4" width="3.5" height="3" fill="#fff" stroke="#000" stroke-width="0.7"/>
<rect x="641.8000000000001" y="346.59999999999997" width="9.6" height="15.6" fill="#6e6c62"/>
<rect x="642.6" y="347.4" width="8" height="14" fill="#c6cad6" stroke="#000" stroke-width="0.9"/>
<rect x="645.1" y="352.4" width="3.5" height="3" fill="#fff" stroke="#000" stroke-width="0.7"/>
<rect x="580.35" y="366.4" width="5.2" height="15" rx="2" fill="#8e8c80"/>
<rect x="581.25" y="367.4" width="3.4" height="12.5" rx="0.8" fill="#d8dce6" stroke="#000" stroke-width="0.9"/>
<rect x="589.65" y="366.4" width="5.2" height="15" rx="2" fill="#8e8c80"/>
<rect x="590.55" y="367.4" width="3.4" height="12.5" rx="0.8" fill="#d8dce6" stroke="#000" stroke-width="0.9"/>
<rect x="598.95" y="366.4" width="5.2" height="15" rx="2" fill="#8e8c80"/>
<rect x="599.85" y="367.4" width="3.4" height="12.5" rx="0.8" fill="#d8dce6" stroke="#000" stroke-width="0.9"/>
<rect x="608.25" y="366.4" width="5.2" height="15" rx="2" fill="#8e8c80"/>
<rect x="609.15" y="367.4" width="3.4" height="12.5" rx="0.8" fill="#d8dce6" stroke="#000" stroke-width="0.9"/>
<rect x="617.5500000000001" y="366.4" width="5.2" height="15" rx="2" fill="#8e8c80"/>
<rect x="618.45" y="367.4" width="3.4" height="12.5" rx="0.8" fill="#d8dce6" stroke="#000" stroke-width="0.9"/>
<rect x="626.85" y="366.4" width="5.2" height="15" rx="2" fill="#8e8c80"/>
<rect x="627.75" y="367.4" width="3.4" height="12.5" rx="0.8" fill="#d8dce6" stroke="#000" stroke-width="0.9"/>
<rect x="566.3000000000001" y="339.4" width="78.59999999999991" height="29" fill="#fff" stroke="#000" stroke-width="1.3"/>
<rect x="566.8000000000001" y="338.79999999999995" width="77.59999999999991" height="2.2" fill="#e8e4c8"/>
<rect x="572.3000000000001" y="341.7" width="67.80000000000001" height="1.8" fill="#000"/>
<rect x="573.3000000000001" y="343.5" width="65.80000000000001" height="1.2" fill="#8a887a"/>
<path d="M570.3000000000001,340.4 V368.4 M642.1,340.4 V368.4" stroke="#000" stroke-width="1.4"/>
<rect x="567.8000000000001" y="348.4" width="3" height="4" fill="#fff" stroke="#000" stroke-width="0.8"/>
<rect x="640.4" y="348.4" width="3" height="4" fill="#fff" stroke="#000" stroke-width="0.8"/>
<rect x="575.3000000000001" y="344.9" width="61.800000000000004" height="22" fill="#fff" stroke="#000" stroke-width="1.5"/>
<rect x="576.3000000000001" y="361.9" width="6" height="5" fill="#fff" stroke="#000" stroke-width="1"/>
<rect x="630.1" y="361.9" width="6" height="5" fill="#fff" stroke="#000" stroke-width="1"/>
<rect x="581.35" y="348.59999999999997" width="3.2" height="3.6" rx="0.8" fill="#111"/>
<rect x="590.65" y="348.59999999999997" width="3.2" height="3.6" rx="0.8" fill="#111"/>
<rect x="599.95" y="348.59999999999997" width="3.2" height="3.6" rx="0.8" fill="#111"/>
<rect x="609.25" y="348.59999999999997" width="3.2" height="3.6" rx="0.8" fill="#111"/>
<rect x="618.5500000000001" y="348.59999999999997" width="3.2" height="3.6" rx="0.8" fill="#111"/>
<rect x="627.85" y="348.59999999999997" width="3.2" height="3.6" rx="0.8" fill="#111"/>
<rect x="456.9" y="401.2" width="45.000000000000036" height="31.5" rx="2" fill="#77756a"/>
<rect x="453.4" y="410.2" width="9.6" height="15.6" fill="#6e6c62"/>
<rect x="454.2" y="411.0" width="8" height="14" fill="#c6cad6" stroke="#000" stroke-width="0.9"/>
<rect x="456.7" y="416.0" width="3.5" height="3" fill="#fff" stroke="#000" stroke-width="0.7"/>
<rect x="497.0" y="410.2" width="9.6" height="15.6" fill="#6e6c62"/>
<rect x="497.8" y="411.0" width="8" height="14" fill="#c6cad6" stroke="#000" stroke-width="0.9"/>
<rect x="500.3" y="416.0" width="3.5" height="3" fill="#fff" stroke="#000" stroke-width="0.7"/>
<rect x="472.75" y="430.0" width="5.2" height="15" rx="2" fill="#8e8c80"/>
<rect x="473.65000000000003" y="431.0" width="3.4" height="12.5" rx="0.8" fill="#d8dce6" stroke="#000" stroke-width="0.9"/>
<rect x="482.05" y="430.0" width="5.2" height="15" rx="2" fill="#8e8c80"/>
<rect x="482.95000000000005" y="431.0" width="3.4" height="12.5" rx="0.8" fill="#d8dce6" stroke="#000" stroke-width="0.9"/>
<rect x="458.7" y="403.0" width="41.400000000000034" height="29" fill="#fff" stroke="#000" stroke-width="1.3"/>
<rect x="459.2" y="402.4" width="40.400000000000034" height="2.2" fill="#e8e4c8"/>
<rect x="464.7" y="405.3" width="30.6" height="1.8" fill="#000"/>
<rect x="465.7" y="407.1" width="28.6" height="1.2" fill="#8a887a"/>
<path d="M462.7,404.0 V432.0 M497.3,404.0 V432.0" stroke="#000" stroke-width="1.4"/>
<rect x="460.2" y="412.0" width="3" height="4" fill="#fff" stroke="#000" stroke-width="0.8"/>
<rect x="495.6" y="412.0" width="3" height="4" fill="#fff" stroke="#000" stroke-width="0.8"/>
<rect x="467.7" y="408.5" width="24.6" height="22" fill="#fff" stroke="#000" stroke-width="1.5"/>
<rect x="468.7" y="425.5" width="6" height="5" fill="#fff" stroke="#000" stroke-width="1"/>
<rect x="485.3" y="425.5" width="6" height="5" fill="#fff" stroke="#000" stroke-width="1"/>
<rect x="473.75" y="412.2" width="3.2" height="3.6" rx="0.8" fill="#111"/>
<rect x="483.05" y="412.2" width="3.2" height="3.6" rx="0.8" fill="#111"/>
<rect x="482.3" y="270.2" width="55.30000000000001" height="54.30000000000001" fill="none" stroke="#e8e6d0" stroke-width="1.8"/>
<rect x="487.6" y="273.3" width="5.8" height="19.80000000000001" fill="#b4b4b4"/>
<rect x="487.6" y="302.5" width="5.8" height="20.899999999999977" fill="#b4b4b4"/>
<rect x="496.95000000000005" y="273.3" width="5.8" height="19.80000000000001" fill="#b4b4b4"/>
<rect x="496.95000000000005" y="302.5" width="5.8" height="20.899999999999977" fill="#b4b4b4"/>
<rect x="506.3" y="273.3" width="5.8" height="19.80000000000001" fill="#b4b4b4"/>
<rect x="506.3" y="302.5" width="5.8" height="20.899999999999977" fill="#b4b4b4"/>
<rect x="515.65" y="273.3" width="5.8" height="19.80000000000001" fill="#b4b4b4"/>
<rect x="515.65" y="302.5" width="5.8" height="20.899999999999977" fill="#b4b4b4"/>
<rect x="525.0" y="273.3" width="5.8" height="19.80000000000001" fill="#b4b4b4"/>
<rect x="525.0" y="302.5" width="5.8" height="20.899999999999977" fill="#b4b4b4"/>
<rect x="477.7" y="320.3" width="8.7" height="9.4" fill="#e8e4cc"/>
<rect x="535.5" y="280" width="3" height="3" fill="none" stroke="#dcd8c0" stroke-width="1"/>
<rect x="486.7" y="445" width="53.30000000000001" height="53.5" fill="none" stroke="#e8e6d0" stroke-width="1.8"/>
<rect x="492.0" y="447.8" width="5.8" height="19.80000000000001" fill="#b4b4b4"/>
<rect x="492.0" y="476" width="5.8" height="19.80000000000001" fill="#b4b4b4"/>
<rect x="501.35" y="447.8" width="5.8" height="19.80000000000001" fill="#b4b4b4"/>
<rect x="501.35" y="476" width="5.8" height="19.80000000000001" fill="#b4b4b4"/>
<rect x="510.7" y="447.8" width="5.8" height="19.80000000000001" fill="#b4b4b4"/>
<rect x="510.7" y="476" width="5.8" height="19.80000000000001" fill="#b4b4b4"/>
<rect x="520.05" y="447.8" width="5.8" height="19.80000000000001" fill="#b4b4b4"/>
<rect x="520.05" y="476" width="5.8" height="19.80000000000001" fill="#b4b4b4"/>
<rect x="529.4" y="447.8" width="5.8" height="19.80000000000001" fill="#b4b4b4"/>
<rect x="529.4" y="476" width="5.8" height="19.80000000000001" fill="#b4b4b4"/>
<rect x="481.5" y="494.4" width="9.4" height="8.7" fill="#e8e4cc"/>
<rect x="489.5" y="454.5" width="3" height="3" fill="none" stroke="#dcd8c0" stroke-width="1"/>
<rect x="372.5" y="448" width="25" height="12" fill="#b4b4b4"/>
<rect x="372.5" y="466" width="25" height="12" fill="#b4b4b4"/>
<rect x="372.5" y="484" width="25" height="12" fill="#b4b4b4"/>
<text x="370.4" y="446" textLength="25.5" lengthAdjust="spacingAndGlyphs" style="font-family:'Liberation Mono',monospace;font-size:11.5px;font-weight:bold;fill:#d8d4bc">U$22</text>
<rect x="490.5" y="187" width="7" height="5.5" fill="#a8a8a0"/>
<rect x="523" y="187" width="7" height="5.5" fill="#a8a8a0"/>
<rect x="490.5" y="194.5" width="7" height="5.5" fill="#a8a8a0"/>
<rect x="523" y="194.5" width="7" height="5.5" fill="#a8a8a0"/>
<rect x="490.5" y="202" width="7" height="5.5" fill="#a8a8a0"/>
<rect x="523" y="202" width="7" height="5.5" fill="#a8a8a0"/>
<rect x="496.7" y="184" width="27.6" height="28" fill="#fff" stroke="#777" stroke-width="0.8"/>
<circle cx="510.5" cy="197.8" r="10.2" fill="#b4b4b4" stroke="#333" stroke-width="1"/>
<path d="M503,197 h15 M508,190 v15 M512,191 v4 h4 M504,201 h5 v3 M513,200 v4 h3 M505,193 h3" stroke="#eee" stroke-width="0.9" fill="none"/>
<text x="516" y="221.5" style="font-size:11.5px;fill:#8a8a80">U6</text>
<g stroke="#e0dcc4" fill="none" stroke-width="1.6">
<circle cx="570.2" cy="204.5" r="4.5"/>
<path d="M570.5,200 V186 M574.7,204.5 H587"/>
<path d="M558.5,177 l6,6 M564.5,177 l-6,6"/>
<path d="M585,212 l4,3.5 l4,-3.5 M589,215.5 v4"/>
<path d="M565.5,223 v-8 l6,8 v-8"/>
</g>
<path d="M566.5,188 L570.5,181 L574.5,188 Z M587,200.5 L593,204.5 L587,208.5 Z" fill="#e0dcc4"/>
<rect x="522.5" y="408" width="4.5" height="17" fill="#b0b0b0"/><rect x="581.5" y="408" width="4" height="17" fill="#b0b0b0"/>
<rect x="526.7" y="404.3" width="54.8" height="31.7" fill="#fff" stroke="#000" stroke-width="1.3"/>
<path d="M527.5,405 H535 V407 H541 V405 H567 V407 H572.5 V405 H581 V408.5 H527.5 Z" fill="#8c8a7c"/>
<rect x="527.5" y="408.5" width="53.5" height="1.4" fill="#000"/>
<rect x="535" y="404.5" width="6" height="2.8" fill="#111"/><rect x="567" y="404.5" width="5.5" height="2.8" fill="#111"/>
<rect x="535" y="412.2" width="37.7" height="19.2" fill="#fff" stroke="#000" stroke-width="1.3"/>
<rect x="527.5" y="419.9" width="53.5" height="1.6" fill="#000"/>
<rect x="535.6" y="428.9" width="36.5" height="2.2" fill="#8c8a7c"/>
<path d="M529,415 V426 M531.5,415 V426 M577,415 V426 M579.5,415 V426" stroke="#000" stroke-width="1"/>
<rect x="529.6" y="415" width="1.6" height="11" fill="#c8ccd8"/><rect x="577.6" y="415" width="1.6" height="11" fill="#c8ccd8"/>
<rect x="541.8" y="413.8" width="2.6" height="2.4" fill="#777"/><rect x="541.8" y="416.6" width="2.6" height="2.4" fill="#c8ccd8" stroke="#000" stroke-width="0.5"/>
<rect x="540.0" y="436.9" width="5.4" height="4" fill="#c0c4cc"/>
<rect x="552.9" y="413.8" width="2.6" height="2.4" fill="#777"/><rect x="552.9" y="416.6" width="2.6" height="2.4" fill="#c8ccd8" stroke="#000" stroke-width="0.5"/>
<rect x="551.1" y="436.9" width="5.4" height="4" fill="#c0c4cc"/>
<rect x="564.0" y="413.8" width="2.6" height="2.4" fill="#777"/><rect x="564.0" y="416.6" width="2.6" height="2.4" fill="#c8ccd8" stroke="#000" stroke-width="0.5"/>
<rect x="562.2" y="436.9" width="5.4" height="4" fill="#c0c4cc"/>
<text x="563" y="445" textLength="86.5" lengthAdjust="spacingAndGlyphs" style="font-family:'Liberation Mono',monospace;font-size:9.6px;fill:#d4d0b8;stroke:#d4d0b8;stroke-width:0.25px">(c) 2013 mjs/lm/jo</text>
<path d="M564,449.2 L647,449.4 Q655,449.5 653.6,457 L645.5,491 Q644.3,498 637,498 L554,497.5 Q546.5,497.5 548,490 L556.5,455.5 Q558,449.2 564,449.2 Z" fill="none" stroke="#eceacc" stroke-width="1.8"/>
<g stroke="#f2f0da" stroke-width="3.2" fill="none" stroke-linejoin="miter">
<path d="M558.5,479 H581 M567.6,479 L566.8,487 M569.5,471.2 H579.6 L577.6,487"/>
<path d="M584.5,469.8 L606,486.8 M606.5,469.8 L582.5,486.8" stroke-width="3.6"/>
<path d="M630,471.3 H611.5 L610,485.6 H635 M638.5,462.5 L634.8,487" />
</g>
<g transform="rotate(180 599.6 463.2)">
<text x="599.6" y="466" text-anchor="middle" textLength="69" lengthAdjust="spacingAndGlyphs" style="font-size:9px;fill:#f2f0da;stroke:#f2f0da;stroke-width:0.3px">autopilot</text>
</g>
<rect x="371" y="368.7" width="2.5" height="12.7" fill="#555"/>
<rect x="654" y="365.5" width="3" height="17" fill="#2a2a2a" stroke="#777" stroke-width="0.6"/>
<rect x="661.5" y="239" width="6" height="56" rx="3" fill="#c8ccd8" stroke="#222" stroke-width="0.9"/>
<path d="M664,243 V291" stroke="#222" stroke-width="0.8"/>
<circle cx="377.40" cy="512.8" r="7" fill="#505050"/>
<circle cx="377.40" cy="512.8" r="6.2" fill="#a8a8a8"/>
<circle cx="377.40" cy="512.8" r="5.4" fill="#cacaca"/>
<circle cx="377.40" cy="512.8" r="3.5" fill="#101010"/>
<circle cx="379.40" cy="530.8" r="7" fill="#505050"/>
<circle cx="379.40" cy="530.8" r="6.2" fill="#a8a8a8"/>
<circle cx="379.40" cy="530.8" r="5.4" fill="#cacaca"/>
<circle cx="379.40" cy="530.8" r="3.5" fill="#101010"/>
<circle cx="381.40" cy="548.0" r="7" fill="#505050"/>
<circle cx="381.40" cy="548.0" r="6.2" fill="#a8a8a8"/>
<circle cx="381.40" cy="548.0" r="5.4" fill="#cacaca"/>
<circle cx="381.40" cy="548.0" r="3.5" fill="#101010"/>
<circle cx="395.53" cy="512.8" r="7" fill="#505050"/>
<circle cx="395.53" cy="512.8" r="6.2" fill="#a8a8a8"/>
<circle cx="395.53" cy="512.8" r="5.4" fill="#cacaca"/>
<circle cx="395.53" cy="512.8" r="3.5" fill="#101010"/>
<circle cx="397.40" cy="530.8" r="7" fill="#505050"/>
<circle cx="397.40" cy="530.8" r="6.2" fill="#a8a8a8"/>
<circle cx="397.40" cy="530.8" r="5.4" fill="#cacaca"/>
<circle cx="397.40" cy="530.8" r="3.5" fill="#101010"/>
<circle cx="399.26" cy="548.0" r="7" fill="#505050"/>
<circle cx="399.26" cy="548.0" r="6.2" fill="#a8a8a8"/>
<circle cx="399.26" cy="548.0" r="5.4" fill="#cacaca"/>
<circle cx="399.26" cy="548.0" r="3.5" fill="#101010"/>
<circle cx="413.66" cy="512.8" r="7" fill="#505050"/>
<circle cx="413.66" cy="512.8" r="6.2" fill="#a8a8a8"/>
<circle cx="413.66" cy="512.8" r="5.4" fill="#cacaca"/>
<circle cx="413.66" cy="512.8" r="3.5" fill="#101010"/>
<circle cx="415.39" cy="530.8" r="7" fill="#505050"/>
<circle cx="415.39" cy="530.8" r="6.2" fill="#a8a8a8"/>
<circle cx="415.39" cy="530.8" r="5.4" fill="#cacaca"/>
<circle cx="415.39" cy="530.8" r="3.5" fill="#101010"/>
<circle cx="417.13" cy="548.0" r="7" fill="#505050"/>
<circle cx="417.13" cy="548.0" r="6.2" fill="#a8a8a8"/>
<circle cx="417.13" cy="548.0" r="5.4" fill="#cacaca"/>
<circle cx="417.13" cy="548.0" r="3.5" fill="#101010"/>
<circle cx="431.79" cy="512.8" r="7" fill="#505050"/>
<circle cx="431.79" cy="512.8" r="6.2" fill="#a8a8a8"/>
<circle cx="431.79" cy="512.8" r="5.4" fill="#cacaca"/>
<circle cx="431.79" cy="512.8" r="3.5" fill="#101010"/>
<circle cx="433.39" cy="530.8" r="7" fill="#505050"/>
<circle cx="433.39" cy="530.8" r="6.2" fill="#a8a8a8"/>
<circle cx="433.39" cy="530.8" r="5.4" fill="#cacaca"/>
<circle cx="433.39" cy="530.8" r="3.5" fill="#101010"/>
<circle cx="434.99" cy="548.0" r="7" fill="#505050"/>
<circle cx="434.99" cy="548.0" r="6.2" fill="#a8a8a8"/>
<circle cx="434.99" cy="548.0" r="5.4" fill="#cacaca"/>
<circle cx="434.99" cy="548.0" r="3.5" fill="#101010"/>
<circle cx="449.92" cy="512.8" r="7" fill="#505050"/>
<circle cx="449.92" cy="512.8" r="6.2" fill="#a8a8a8"/>
<circle cx="449.92" cy="512.8" r="5.4" fill="#cacaca"/>
<circle cx="449.92" cy="512.8" r="3.5" fill="#101010"/>
<circle cx="451.39" cy="530.8" r="7" fill="#505050"/>
<circle cx="451.39" cy="530.8" r="6.2" fill="#a8a8a8"/>
<circle cx="451.39" cy="530.8" r="5.4" fill="#cacaca"/>
<circle cx="451.39" cy="530.8" r="3.5" fill="#101010"/>
<circle cx="452.85" cy="548.0" r="7" fill="#505050"/>
<circle cx="452.85" cy="548.0" r="6.2" fill="#a8a8a8"/>
<circle cx="452.85" cy="548.0" r="5.4" fill="#cacaca"/>
<circle cx="452.85" cy="548.0" r="3.5" fill="#101010"/>
<circle cx="468.05" cy="512.8" r="7" fill="#505050"/>
<circle cx="468.05" cy="512.8" r="6.2" fill="#a8a8a8"/>
<circle cx="468.05" cy="512.8" r="5.4" fill="#cacaca"/>
<circle cx="468.05" cy="512.8" r="3.5" fill="#101010"/>
<circle cx="469.38" cy="530.8" r="7" fill="#505050"/>
<circle cx="469.38" cy="530.8" r="6.2" fill="#a8a8a8"/>
<circle cx="469.38" cy="530.8" r="5.4" fill="#cacaca"/>
<circle cx="469.38" cy="530.8" r="3.5" fill="#101010"/>
<circle cx="470.72" cy="548.0" r="7" fill="#505050"/>
<circle cx="470.72" cy="548.0" r="6.2" fill="#a8a8a8"/>
<circle cx="470.72" cy="548.0" r="5.4" fill="#cacaca"/>
<circle cx="470.72" cy="548.0" r="3.5" fill="#101010"/>
<circle cx="486.18" cy="512.8" r="7" fill="#505050"/>
<circle cx="486.18" cy="512.8" r="6.2" fill="#a8a8a8"/>
<circle cx="486.18" cy="512.8" r="5.4" fill="#cacaca"/>
<circle cx="486.18" cy="512.8" r="3.5" fill="#101010"/>
<circle cx="487.38" cy="530.8" r="7" fill="#505050"/>
<circle cx="487.38" cy="530.8" r="6.2" fill="#a8a8a8"/>
<circle cx="487.38" cy="530.8" r="5.4" fill="#cacaca"/>
<circle cx="487.38" cy="530.8" r="3.5" fill="#101010"/>
<circle cx="488.58" cy="548.0" r="7" fill="#505050"/>
<circle cx="488.58" cy="548.0" r="6.2" fill="#a8a8a8"/>
<circle cx="488.58" cy="548.0" r="5.4" fill="#cacaca"/>
<circle cx="488.58" cy="548.0" r="3.5" fill="#101010"/>
<circle cx="504.31" cy="512.8" r="7" fill="#505050"/>
<circle cx="504.31" cy="512.8" r="6.2" fill="#a8a8a8"/>
<circle cx="504.31" cy="512.8" r="5.4" fill="#cacaca"/>
<circle cx="504.31" cy="512.8" r="3.5" fill="#101010"/>
<circle cx="505.38" cy="530.8" r="7" fill="#505050"/>
<circle cx="505.38" cy="530.8" r="6.2" fill="#a8a8a8"/>
<circle cx="505.38" cy="530.8" r="5.4" fill="#cacaca"/>
<circle cx="505.38" cy="530.8" r="3.5" fill="#101010"/>
<circle cx="506.44" cy="548.0" r="7" fill="#505050"/>
<circle cx="506.44" cy="548.0" r="6.2" fill="#a8a8a8"/>
<circle cx="506.44" cy="548.0" r="5.4" fill="#cacaca"/>
<circle cx="506.44" cy="548.0" r="3.5" fill="#101010"/>
<circle cx="522.44" cy="512.8" r="7" fill="#505050"/>
<circle cx="522.44" cy="512.8" r="6.2" fill="#a8a8a8"/>
<circle cx="522.44" cy="512.8" r="5.4" fill="#cacaca"/>
<circle cx="522.44" cy="512.8" r="3.5" fill="#101010"/>
<circle cx="523.37" cy="530.8" r="7" fill="#505050"/>
<circle cx="523.37" cy="530.8" r="6.2" fill="#a8a8a8"/>
<circle cx="523.37" cy="530.8" r="5.4" fill="#cacaca"/>
<circle cx="523.37" cy="530.8" r="3.5" fill="#101010"/>
<circle cx="524.31" cy="548.0" r="7" fill="#505050"/>
<circle cx="524.31" cy="548.0" r="6.2" fill="#a8a8a8"/>
<circle cx="524.31" cy="548.0" r="5.4" fill="#cacaca"/>
<circle cx="524.31" cy="548.0" r="3.5" fill="#101010"/>
<circle cx="540.57" cy="512.8" r="7" fill="#505050"/>
<circle cx="540.57" cy="512.8" r="6.2" fill="#a8a8a8"/>
<circle cx="540.57" cy="512.8" r="5.4" fill="#cacaca"/>
<circle cx="540.57" cy="512.8" r="3.5" fill="#101010"/>
<circle cx="541.37" cy="530.8" r="7" fill="#505050"/>
<circle cx="541.37" cy="530.8" r="6.2" fill="#a8a8a8"/>
<circle cx="541.37" cy="530.8" r="5.4" fill="#cacaca"/>
<circle cx="541.37" cy="530.8" r="3.5" fill="#101010"/>
<circle cx="542.17" cy="548.0" r="7" fill="#505050"/>
<circle cx="542.17" cy="548.0" r="6.2" fill="#a8a8a8"/>
<circle cx="542.17" cy="548.0" r="5.4" fill="#cacaca"/>
<circle cx="542.17" cy="548.0" r="3.5" fill="#101010"/>
<circle cx="558.70" cy="512.8" r="7" fill="#505050"/>
<circle cx="558.70" cy="512.8" r="6.2" fill="#a8a8a8"/>
<circle cx="558.70" cy="512.8" r="5.4" fill="#cacaca"/>
<circle cx="558.70" cy="512.8" r="3.5" fill="#101010"/>
<circle cx="559.37" cy="530.8" r="7" fill="#505050"/>
<circle cx="559.37" cy="530.8" r="6.2" fill="#a8a8a8"/>
<circle cx="559.37" cy="530.8" r="5.4" fill="#cacaca"/>
<circle cx="559.37" cy="530.8" r="3.5" fill="#101010"/>
<circle cx="560.03" cy="548.0" r="7" fill="#505050"/>
<circle cx="560.03" cy="548.0" r="6.2" fill="#a8a8a8"/>
<circle cx="560.03" cy="548.0" r="5.4" fill="#cacaca"/>
<circle cx="560.03" cy="548.0" r="3.5" fill="#101010"/>
<circle cx="576.83" cy="512.8" r="7" fill="#505050"/>
<circle cx="576.83" cy="512.8" r="6.2" fill="#a8a8a8"/>
<circle cx="576.83" cy="512.8" r="5.4" fill="#cacaca"/>
<circle cx="576.83" cy="512.8" r="3.5" fill="#101010"/>
<circle cx="577.36" cy="530.8" r="7" fill="#505050"/>
<circle cx="577.36" cy="530.8" r="6.2" fill="#a8a8a8"/>
<circle cx="577.36" cy="530.8" r="5.4" fill="#cacaca"/>
<circle cx="577.36" cy="530.8" r="3.5" fill="#101010"/>
<circle cx="577.90" cy="548.0" r="7" fill="#505050"/>
<circle cx="577.90" cy="548.0" r="6.2" fill="#a8a8a8"/>
<circle cx="577.90" cy="548.0" r="5.4" fill="#cacaca"/>
<circle cx="577.90" cy="548.0" r="3.5" fill="#101010"/>
<circle cx="594.96" cy="512.8" r="7" fill="#505050"/>
<circle cx="594.96" cy="512.8" r="6.2" fill="#a8a8a8"/>
<circle cx="594.96" cy="512.8" r="5.4" fill="#cacaca"/>
<circle cx="594.96" cy="512.8" r="3.5" fill="#101010"/>
<circle cx="595.36" cy="530.8" r="7" fill="#505050"/>
<circle cx="595.36" cy="530.8" r="6.2" fill="#a8a8a8"/>
<circle cx="595.36" cy="530.8" r="5.4" fill="#cacaca"/>
<circle cx="595.36" cy="530.8" r="3.5" fill="#101010"/>
<circle cx="595.76" cy="548.0" r="7" fill="#505050"/>
<circle cx="595.76" cy="548.0" r="6.2" fill="#a8a8a8"/>
<circle cx="595.76" cy="548.0" r="5.4" fill="#cacaca"/>
<circle cx="595.76" cy="548.0" r="3.5" fill="#101010"/>
<circle cx="613.09" cy="512.8" r="7" fill="#505050"/>
<circle cx="613.09" cy="512.8" r="6.2" fill="#a8a8a8"/>
<circle cx="613.09" cy="512.8" r="5.4" fill="#cacaca"/>
<circle cx="613.09" cy="512.8" r="3.5" fill="#101010"/>
<circle cx="613.36" cy="530.8" r="7" fill="#505050"/>
<circle cx="613.36" cy="530.8" r="6.2" fill="#a8a8a8"/>
<circle cx="613.36" cy="530.8" r="5.4" fill="#cacaca"/>
<circle cx="613.36" cy="530.8" r="3.5" fill="#101010"/>
<circle cx="613.62" cy="548.0" r="7" fill="#505050"/>
<circle cx="613.62" cy="548.0" r="6.2" fill="#a8a8a8"/>
<circle cx="613.62" cy="548.0" r="5.4" fill="#cacaca"/>
<circle cx="613.62" cy="548.0" r="3.5" fill="#101010"/>
<circle cx="631.22" cy="512.8" r="7" fill="#505050"/>
<circle cx="631.22" cy="512.8" r="6.2" fill="#a8a8a8"/>
<circle cx="631.22" cy="512.8" r="5.4" fill="#cacaca"/>
<circle cx="631.22" cy="512.8" r="3.5" fill="#101010"/>
<circle cx="631.35" cy="530.8" r="7" fill="#505050"/>
<circle cx="631.35" cy="530.8" r="6.2" fill="#a8a8a8"/>
<circle cx="631.35" cy="530.8" r="5.4" fill="#cacaca"/>
<circle cx="631.35" cy="530.8" r="3.5" fill="#101010"/>
<circle cx="631.49" cy="548.0" r="7" fill="#505050"/>
<circle cx="631.49" cy="548.0" r="6.2" fill="#a8a8a8"/>
<circle cx="631.49" cy="548.0" r="5.4" fill="#cacaca"/>
<circle cx="631.49" cy="548.0" r="3.5" fill="#101010"/>
<circle cx="649.35" cy="512.8" r="7" fill="#505050"/>
<circle cx="649.35" cy="512.8" r="6.2" fill="#a8a8a8"/>
<circle cx="649.35" cy="512.8" r="5.4" fill="#cacaca"/>
<circle cx="649.35" cy="512.8" r="3.5" fill="#101010"/>
<circle cx="649.35" cy="530.8" r="7" fill="#505050"/>
<circle cx="649.35" cy="530.8" r="6.2" fill="#a8a8a8"/>
<circle cx="649.35" cy="530.8" r="5.4" fill="#cacaca"/>
<circle cx="649.35" cy="530.8" r="3.5" fill="#101010"/>
<circle cx="649.35" cy="548.0" r="7" fill="#505050"/>
<circle cx="649.35" cy="548.0" r="6.2" fill="#a8a8a8"/>
<circle cx="649.35" cy="548.0" r="5.4" fill="#cacaca"/>
<circle cx="649.35" cy="548.0" r="3.5" fill="#101010"/>
<path d="M370,557 L659,557 L655,562 L370,562 Z" fill="#fff"/>
<path d="M370,562 L656,562 L661.8,571.5 L364.5,571.5 Z" fill="#2c2c2c"/>
<rect x="368.8" y="563" width="12" height="8.5" rx="1.5" fill="#3a3a3a"/>
<rect x="371.8" y="559" width="6" height="4" fill="#2a2a2a"/>
<rect x="387.28000000000003" y="563" width="12" height="8.5" rx="1.5" fill="#3a3a3a"/>
<rect x="390.28000000000003" y="559" width="6" height="4" fill="#2a2a2a"/>
<rect x="405.76" y="563" width="12" height="8.5" rx="1.5" fill="#3a3a3a"/>
<rect x="408.76" y="559" width="6" height="4" fill="#2a2a2a"/>
<rect x="424.24" y="563" width="12" height="8.5" rx="1.5" fill="#3a3a3a"/>
<rect x="427.24" y="559" width="6" height="4" fill="#2a2a2a"/>
<rect x="442.72" y="563" width="12" height="8.5" rx="1.5" fill="#3a3a3a"/>
<rect x="445.72" y="559" width="6" height="4" fill="#2a2a2a"/>
<rect x="461.20000000000005" y="563" width="12" height="8.5" rx="1.5" fill="#3a3a3a"/>
<rect x="464.20000000000005" y="559" width="6" height="4" fill="#2a2a2a"/>
<rect x="479.68" y="563" width="12" height="8.5" rx="1.5" fill="#3a3a3a"/>
<rect x="482.68" y="559" width="6" height="4" fill="#2a2a2a"/>
<rect x="498.16" y="563" width="12" height="8.5" rx="1.5" fill="#3a3a3a"/>
<rect x="501.16" y="559" width="6" height="4" fill="#2a2a2a"/>
<rect x="516.64" y="563" width="12" height="8.5" rx="1.5" fill="#3a3a3a"/>
<rect x="519.64" y="559" width="6" height="4" fill="#2a2a2a"/>
<rect x="535.12" y="563" width="12" height="8.5" rx="1.5" fill="#3a3a3a"/>
<rect x="538.12" y="559" width="6" height="4" fill="#2a2a2a"/>
<rect x="553.6" y="563" width="12" height="8.5" rx="1.5" fill="#3a3a3a"/>
<rect x="556.6" y="559" width="6" height="4" fill="#2a2a2a"/>
<rect x="572.08" y="563" width="12" height="8.5" rx="1.5" fill="#3a3a3a"/>
<rect x="575.08" y="559" width="6" height="4" fill="#2a2a2a"/>
<rect x="590.56" y="563" width="12" height="8.5" rx="1.5" fill="#3a3a3a"/>
<rect x="593.56" y="559" width="6" height="4" fill="#2a2a2a"/>
<rect x="609.04" y="563" width="12" height="8.5" rx="1.5" fill="#3a3a3a"/>
<rect x="612.04" y="559" width="6" height="4" fill="#2a2a2a"/>
<rect x="627.52" y="563" width="12" height="8.5" rx="1.5" fill="#3a3a3a"/>
<rect x="630.52" y="559" width="6" height="4" fill="#2a2a2a"/>
<rect x="646.0" y="563" width="12" height="8.5" rx="1.5" fill="#3a3a3a"/>
<rect x="649.0" y="559" width="6" height="4" fill="#2a2a2a"/>
<rect x="364.5" y="571.5" width="297.3" height="17.5" fill="#363636"/>
<rect x="368.2" y="572" width="13.2" height="16.6" fill="#5c5c5c"/>
<path d="M383.0,572 V589 M385.2,572 V589" stroke="#111" stroke-width="0.8"/>
<rect x="386.68" y="572" width="13.2" height="16.6" fill="#5c5c5c"/>
<path d="M401.48,572 V589 M403.68,572 V589" stroke="#111" stroke-width="0.8"/>
<rect x="405.15999999999997" y="572" width="13.2" height="16.6" fill="#5c5c5c"/>
<path d="M419.96,572 V589 M422.15999999999997,572 V589" stroke="#111" stroke-width="0.8"/>
<rect x="423.64" y="572" width="13.2" height="16.6" fill="#5c5c5c"/>
<path d="M438.44,572 V589 M440.64,572 V589" stroke="#111" stroke-width="0.8"/>
<rect x="442.12" y="572" width="13.2" height="16.6" fill="#5c5c5c"/>
<path d="M456.92,572 V589 M459.12,572 V589" stroke="#111" stroke-width="0.8"/>
<rect x="460.6" y="572" width="13.2" height="16.6" fill="#5c5c5c"/>
<path d="M475.40000000000003,572 V589 M477.6,572 V589" stroke="#111" stroke-width="0.8"/>
<rect x="479.08" y="572" width="13.2" height="16.6" fill="#5c5c5c"/>
<path d="M493.88,572 V589 M496.08,572 V589" stroke="#111" stroke-width="0.8"/>
<rect x="497.56" y="572" width="13.2" height="16.6" fill="#5c5c5c"/>
<path d="M512.36,572 V589 M514.5600000000001,572 V589" stroke="#111" stroke-width="0.8"/>
<rect x="516.04" y="572" width="13.2" height="16.6" fill="#5c5c5c"/>
<path d="M530.84,572 V589 M533.04,572 V589" stroke="#111" stroke-width="0.8"/>
<rect x="534.52" y="572" width="13.2" height="16.6" fill="#5c5c5c"/>
<path d="M549.32,572 V589 M551.52,572 V589" stroke="#111" stroke-width="0.8"/>
<rect x="553.0" y="572" width="13.2" height="16.6" fill="#5c5c5c"/>
<path d="M567.8000000000001,572 V589 M570.0,572 V589" stroke="#111" stroke-width="0.8"/>
<rect x="571.48" y="572" width="13.2" height="16.6" fill="#5c5c5c"/>
<path d="M586.2800000000001,572 V589 M588.48,572 V589" stroke="#111" stroke-width="0.8"/>
<rect x="589.9599999999999" y="572" width="13.2" height="16.6" fill="#5c5c5c"/>
<path d="M604.76,572 V589 M606.9599999999999,572 V589" stroke="#111" stroke-width="0.8"/>
<rect x="608.4399999999999" y="572" width="13.2" height="16.6" fill="#5c5c5c"/>
<path d="M623.24,572 V589 M625.4399999999999,572 V589" stroke="#111" stroke-width="0.8"/>
<rect x="626.92" y="572" width="13.2" height="16.6" fill="#5c5c5c"/>
<path d="M641.72,572 V589 M643.92,572 V589" stroke="#111" stroke-width="0.8"/>
<rect x="645.4" y="572" width="13.2" height="16.6" fill="#5c5c5c"/>
<path d="M660.2,572 V589 M662.4,572 V589" stroke="#111" stroke-width="0.8"/>
<path d="M364.5,589 H661.8" stroke="#0a0a0a" stroke-width="1.2"/>
<rect x="377.0" y="532" width="3.2" height="40" fill="#f0ecbc" stroke="#000" stroke-width="0.6"/>
<path d="M375.20,511 Q377.40,508.5 379.60,511 L377.30,523 L372.50,523 Z" fill="#a29a72" stroke="#000" stroke-width="0.7"/>
<rect x="372.50" y="521" width="4.8" height="4" fill="#d4ce9c"/>
<rect x="372.50" y="525" width="4.8" height="46.5" fill="#f6f2c4" stroke="#000" stroke-width="0.6"/>
<rect x="372.50" y="589.5" width="4.8" height="44" fill="#fcf8c8" stroke="#000" stroke-width="0.9"/>
<path d="M372.50,633.5 L374.00,636.8 L375.80,636.8 L377.30,633.5 Z" fill="#fcf8c8" stroke="#000" stroke-width="0.6"/>
<path d="M377.30,590 L383.00,590 L383.00,620 L377.30,633 Z" fill="#000"/>
<rect x="379.10" y="594" width="1.4" height="24" fill="#f0ecbc"/>
<rect x="395.48" y="532" width="3.2" height="40" fill="#f0ecbc" stroke="#000" stroke-width="0.6"/>
<path d="M393.33,511 Q395.53,508.5 397.73,511 L395.78,523 L390.98,523 Z" fill="#a29a72" stroke="#000" stroke-width="0.7"/>
<rect x="390.98" y="521" width="4.8" height="4" fill="#d4ce9c"/>
<rect x="390.98" y="525" width="4.8" height="46.5" fill="#f6f2c4" stroke="#000" stroke-width="0.6"/>
<rect x="390.98" y="589.5" width="4.8" height="44" fill="#fcf8c8" stroke="#000" stroke-width="0.9"/>
<path d="M390.98,633.5 L392.48,636.8 L394.28,636.8 L395.78,633.5 Z" fill="#fcf8c8" stroke="#000" stroke-width="0.6"/>
<path d="M395.78,590 L401.48,590 L401.48,620 L395.78,633 Z" fill="#000"/>
<rect x="397.58" y="594" width="1.4" height="24" fill="#f0ecbc"/>
<rect x="413.96" y="532" width="3.2" height="40" fill="#f0ecbc" stroke="#000" stroke-width="0.6"/>
<path d="M411.46,511 Q413.66,508.5 415.86,511 L414.26,523 L409.46,523 Z" fill="#a29a72" stroke="#000" stroke-width="0.7"/>
<rect x="409.46" y="521" width="4.8" height="4" fill="#d4ce9c"/>
<rect x="409.46" y="525" width="4.8" height="46.5" fill="#f6f2c4" stroke="#000" stroke-width="0.6"/>
<rect x="409.46" y="589.5" width="4.8" height="44" fill="#fcf8c8" stroke="#000" stroke-width="0.9"/>
<path d="M409.46,633.5 L410.96,636.8 L412.76,636.8 L414.26,633.5 Z" fill="#fcf8c8" stroke="#000" stroke-width="0.6"/>
<path d="M414.26,590 L419.96,590 L419.96,620 L414.26,633 Z" fill="#000"/>
<rect x="416.06" y="594" width="1.4" height="8" fill="#f0ecbc"/>
<path d="M429.59,511 Q431.79,508.5 433.99,511 L432.74,523 L427.94,523 Z" fill="#a29a72" stroke="#000" stroke-width="0.7"/>
<rect x="427.94" y="521" width="4.8" height="4" fill="#d4ce9c"/>
<rect x="427.94" y="525" width="4.8" height="46.5" fill="#f6f2c4" stroke="#000" stroke-width="0.6"/>
<rect x="427.94" y="589.5" width="4.8" height="44" fill="#fcf8c8" stroke="#000" stroke-width="0.9"/>
<path d="M427.94,633.5 L429.44,636.8 L431.24,636.8 L432.74,633.5 Z" fill="#fcf8c8" stroke="#000" stroke-width="0.6"/>
<path d="M432.74,590 L438.44,590 L438.44,620 L432.74,633 Z" fill="#000"/>
<rect x="434.54" y="594" width="1.4" height="8" fill="#f0ecbc"/>
<path d="M447.72,511 Q449.92,508.5 452.12,511 L451.22,523 L446.42,523 Z" fill="#a29a72" stroke="#000" stroke-width="0.7"/>
<rect x="446.42" y="521" width="4.8" height="4" fill="#d4ce9c"/>
<rect x="446.42" y="525" width="4.8" height="46.5" fill="#f6f2c4" stroke="#000" stroke-width="0.6"/>
<rect x="446.42" y="589.5" width="4.8" height="44" fill="#fcf8c8" stroke="#000" stroke-width="0.9"/>
<path d="M446.42,633.5 L447.92,636.8 L449.72,636.8 L451.22,633.5 Z" fill="#fcf8c8" stroke="#000" stroke-width="0.6"/>
<path d="M465.85,511 Q468.05,508.5 470.25,511 L469.70,523 L464.90,523 Z" fill="#a29a72" stroke="#000" stroke-width="0.7"/>
<rect x="464.90" y="521" width="4.8" height="4" fill="#d4ce9c"/>
<rect x="464.90" y="525" width="4.8" height="46.5" fill="#f6f2c4" stroke="#000" stroke-width="0.6"/>
<rect x="464.90" y="589.5" width="4.8" height="44" fill="#fcf8c8" stroke="#000" stroke-width="0.9"/>
<path d="M464.90,633.5 L466.40,636.8 L468.20,636.8 L469.70,633.5 Z" fill="#fcf8c8" stroke="#000" stroke-width="0.6"/>
<path d="M483.98,511 Q486.18,508.5 488.38,511 L488.18,523 L483.38,523 Z" fill="#a29a72" stroke="#000" stroke-width="0.7"/>
<rect x="483.38" y="521" width="4.8" height="4" fill="#d4ce9c"/>
<rect x="483.38" y="525" width="4.8" height="46.5" fill="#f6f2c4" stroke="#000" stroke-width="0.6"/>
<rect x="483.38" y="589.5" width="4.8" height="44" fill="#fcf8c8" stroke="#000" stroke-width="0.9"/>
<path d="M483.38,633.5 L484.88,636.8 L486.68,636.8 L488.18,633.5 Z" fill="#fcf8c8" stroke="#000" stroke-width="0.6"/>
<path d="M502.11,511 Q504.31,508.5 506.51,511 L506.66,523 L501.86,523 Z" fill="#a29a72" stroke="#000" stroke-width="0.7"/>
<rect x="501.86" y="521" width="4.8" height="4" fill="#d4ce9c"/>
<rect x="501.86" y="525" width="4.8" height="46.5" fill="#f6f2c4" stroke="#000" stroke-width="0.6"/>
<rect x="501.86" y="589.5" width="4.8" height="44" fill="#fcf8c8" stroke="#000" stroke-width="0.9"/>
<path d="M501.86,633.5 L503.36,636.8 L505.16,636.8 L506.66,633.5 Z" fill="#fcf8c8" stroke="#000" stroke-width="0.6"/>
<path d="M520.24,511 Q522.44,508.5 524.64,511 L525.14,523 L520.34,523 Z" fill="#a29a72" stroke="#000" stroke-width="0.7"/>
<rect x="520.34" y="521" width="4.8" height="4" fill="#d4ce9c"/>
<rect x="520.34" y="525" width="4.8" height="46.5" fill="#f6f2c4" stroke="#000" stroke-width="0.6"/>
<rect x="520.34" y="589.5" width="4.8" height="44" fill="#fcf8c8" stroke="#000" stroke-width="0.9"/>
<path d="M520.34,633.5 L521.84,636.8 L523.64,636.8 L525.14,633.5 Z" fill="#fcf8c8" stroke="#000" stroke-width="0.6"/>
<path d="M538.37,511 Q540.57,508.5 542.77,511 L543.62,523 L538.82,523 Z" fill="#a29a72" stroke="#000" stroke-width="0.7"/>
<rect x="538.82" y="521" width="4.8" height="4" fill="#d4ce9c"/>
<rect x="538.82" y="525" width="4.8" height="46.5" fill="#f6f2c4" stroke="#000" stroke-width="0.6"/>
<rect x="538.82" y="589.5" width="4.8" height="44" fill="#fcf8c8" stroke="#000" stroke-width="0.9"/>
<path d="M538.82,633.5 L540.32,636.8 L542.12,636.8 L543.62,633.5 Z" fill="#fcf8c8" stroke="#000" stroke-width="0.6"/>
<path d="M556.50,511 Q558.70,508.5 560.90,511 L562.10,523 L557.30,523 Z" fill="#a29a72" stroke="#000" stroke-width="0.7"/>
<rect x="557.30" y="521" width="4.8" height="4" fill="#d4ce9c"/>
<rect x="557.30" y="525" width="4.8" height="46.5" fill="#f6f2c4" stroke="#000" stroke-width="0.6"/>
<rect x="557.30" y="589.5" width="4.8" height="44" fill="#fcf8c8" stroke="#000" stroke-width="0.9"/>
<path d="M557.30,633.5 L558.80,636.8 L560.60,636.8 L562.10,633.5 Z" fill="#fcf8c8" stroke="#000" stroke-width="0.6"/>
<path d="M574.63,511 Q576.83,508.5 579.03,511 L580.58,523 L575.78,523 Z" fill="#a29a72" stroke="#000" stroke-width="0.7"/>
<rect x="575.78" y="521" width="4.8" height="4" fill="#d4ce9c"/>
<rect x="575.78" y="525" width="4.8" height="46.5" fill="#f6f2c4" stroke="#000" stroke-width="0.6"/>
<rect x="575.78" y="589.5" width="4.8" height="44" fill="#fcf8c8" stroke="#000" stroke-width="0.9"/>
<path d="M575.78,633.5 L577.28,636.8 L579.08,636.8 L580.58,633.5 Z" fill="#fcf8c8" stroke="#000" stroke-width="0.6"/>
<path d="M592.76,511 Q594.96,508.5 597.16,511 L599.06,523 L594.26,523 Z" fill="#a29a72" stroke="#000" stroke-width="0.7"/>
<rect x="594.26" y="521" width="4.8" height="4" fill="#d4ce9c"/>
<rect x="594.26" y="525" width="4.8" height="46.5" fill="#f6f2c4" stroke="#000" stroke-width="0.6"/>
<rect x="594.26" y="589.5" width="4.8" height="44" fill="#fcf8c8" stroke="#000" stroke-width="0.9"/>
<path d="M594.26,633.5 L595.76,636.8 L597.56,636.8 L599.06,633.5 Z" fill="#fcf8c8" stroke="#000" stroke-width="0.6"/>
<path d="M594.26,620 L592.76,624 L592.76,625 L594.26,633 Z" fill="#000"/>
<path d="M610.89,511 Q613.09,508.5 615.29,511 L617.54,523 L612.74,523 Z" fill="#a29a72" stroke="#000" stroke-width="0.7"/>
<rect x="612.74" y="521" width="4.8" height="4" fill="#d4ce9c"/>
<rect x="612.74" y="525" width="4.8" height="46.5" fill="#f6f2c4" stroke="#000" stroke-width="0.6"/>
<rect x="612.74" y="589.5" width="4.8" height="44" fill="#fcf8c8" stroke="#000" stroke-width="0.9"/>
<path d="M612.74,633.5 L614.24,636.8 L616.04,636.8 L617.54,633.5 Z" fill="#fcf8c8" stroke="#000" stroke-width="0.6"/>
<path d="M612.74,598 L609.54,606 L609.54,625 L612.74,633 Z" fill="#000"/>
<path d="M629.02,511 Q631.22,508.5 633.42,511 L636.02,523 L631.22,523 Z" fill="#a29a72" stroke="#000" stroke-width="0.7"/>
<rect x="631.22" y="521" width="4.8" height="4" fill="#d4ce9c"/>
<rect x="631.22" y="525" width="4.8" height="46.5" fill="#f6f2c4" stroke="#000" stroke-width="0.6"/>
<rect x="631.22" y="589.5" width="4.8" height="44" fill="#fcf8c8" stroke="#000" stroke-width="0.9"/>
<path d="M631.22,633.5 L632.72,636.8 L634.52,636.8 L636.02,633.5 Z" fill="#fcf8c8" stroke="#000" stroke-width="0.6"/>
<path d="M631.22,598 L628.02,606 L628.02,625 L631.22,633 Z" fill="#000"/>
<path d="M647.15,511 Q649.35,508.5 651.55,511 L654.50,523 L649.70,523 Z" fill="#a29a72" stroke="#000" stroke-width="0.7"/>
<rect x="649.70" y="521" width="4.8" height="4" fill="#d4ce9c"/>
<rect x="649.70" y="525" width="4.8" height="46.5" fill="#f6f2c4" stroke="#000" stroke-width="0.6"/>
<rect x="649.70" y="589.5" width="4.8" height="44" fill="#fcf8c8" stroke="#000" stroke-width="0.9"/>
<path d="M649.70,633.5 L651.20,636.8 L653.00,636.8 L654.50,633.5 Z" fill="#fcf8c8" stroke="#000" stroke-width="0.6"/>
<path d="M649.70,598 L646.50,606 L646.50,625 L649.70,633 Z" fill="#000"/>
<text class="l" x="220.5" y="79.2" textLength="76.2" lengthAdjust="spacingAndGlyphs">AIRSPEED</text>
<text class="l" x="77.7" y="142.0" textLength="201.6" lengthAdjust="spacingAndGlyphs">I2C (external compass, LED)</text>
<text class="l" x="221.8" y="183.4" textLength="65.5" lengthAdjust="spacingAndGlyphs">RGB LED</text>
<text class="l" x="213.8" y="208.5" textLength="83.1" lengthAdjust="spacingAndGlyphs">ANALOGx2</text>
<text class="l" x="225.1" y="249.4" textLength="63.7" lengthAdjust="spacingAndGlyphs">CANBUS</text>
<text class="l" x="197.0" y="318.0" textLength="86.1" lengthAdjust="spacingAndGlyphs">SER3 (GPS)</text>
<text class="l" x="243.9" y="351.8" textLength="39.9" lengthAdjust="spacingAndGlyphs">JTAG</text>
<text class="l" x="164.9" y="375.7" textLength="126.9" lengthAdjust="spacingAndGlyphs">SER4 (NSH Shell)</text>
<text class="l" x="220.1" y="418.0" textLength="71.7" lengthAdjust="spacingAndGlyphs">RESET IO</text>
<text class="l" x="171.2" y="441.8" textLength="131.9" lengthAdjust="spacingAndGlyphs">ARM SWITCH/LED</text>
<text class="l" x="238.9" y="482.0" textLength="59.2" lengthAdjust="spacingAndGlyphs">BUZZER</text>
<text class="l" x="266.4" y="672.2" textLength="55.0" lengthAdjust="spacingAndGlyphs">PPM-IN</text>
<text class="l" x="258.0" y="691.0" textLength="63.4" lengthAdjust="spacingAndGlyphs">SBUS-IN</text>
<text class="l" x="297.1" y="705.0" textLength="70.3" lengthAdjust="spacingAndGlyphs">SBUS-out</text>
<text class="l" x="310.9" y="724.3" textLength="55.5" lengthAdjust="spacingAndGlyphs">RSSI-in</text>
<text class="l" x="445.2" y="703.7" textLength="76.5" lengthAdjust="spacingAndGlyphs">PWM-IO-8</text>
<text class="l" x="563.1" y="705.1" textLength="75.6" lengthAdjust="spacingAndGlyphs">PWM-IO-1</text>
<text class="l" x="582.0" y="685.6" textLength="89.3" lengthAdjust="spacingAndGlyphs">PWM-FMU-6</text>
<text class="l" x="684.0" y="689.8" textLength="88.6" lengthAdjust="spacingAndGlyphs">PWM-FMU-1</text>
<text class="l" x="760.5" y="112.2" textLength="56.1" lengthAdjust="spacingAndGlyphs">POWER</text>
<text class="l" x="787.3" y="187.1" textLength="25.4" lengthAdjust="spacingAndGlyphs">SPI</text>
<text class="l" x="774.0" y="241.2" textLength="74.3" lengthAdjust="spacingAndGlyphs">USB-DF13</text>
<text class="l" x="787.1" y="278.1" textLength="31.1" lengthAdjust="spacingAndGlyphs">USB</text>
<text class="l" x="772.8" y="337.3" textLength="37.1" lengthAdjust="spacingAndGlyphs">SER1</text>
<text class="l" x="764.0" y="385.0" textLength="84.3" lengthAdjust="spacingAndGlyphs">RESET FMU</text>
<text class="l" x="778.3" y="411.1" textLength="39.1" lengthAdjust="spacingAndGlyphs">SER2</text>
<text class="l" x="732.6" y="457.7" textLength="118.2" lengthAdjust="spacingAndGlyphs">SPEKTRUM/DSM</text>
<polyline points="307.5,72.5 365,70 396.8,67.3" fill="none" stroke="#474747" stroke-width="1.1"/>
<path d="M396.8,67.3 L390.0,70.1 L389.6,65.7 Z" fill="#474747"/>
<polyline points="290,135 368,133.4 391.5,133" fill="none" stroke="#474747" stroke-width="1.1"/>
<path d="M391.5,133.0 L384.5,135.3 L384.5,130.9 Z" fill="#474747"/>
<polyline points="296.2,176.3 492.8,196.3" fill="none" stroke="#474747" stroke-width="1.1"/>
<path d="M492.8,196.3 L485.6,197.8 L486.1,193.4 Z" fill="#474747"/>
<polyline points="306.7,200.9 320.5,200.9 496.3,235.3" fill="none" stroke="#474747" stroke-width="1.1"/>
<path d="M496.3,235.3 L489.0,236.1 L489.9,231.8 Z" fill="#474747"/>
<polyline points="299.2,242.3 363.2,240.8 405.7,239.6" fill="none" stroke="#474747" stroke-width="1.1"/>
<path d="M405.7,239.6 L398.8,242.0 L398.6,237.6 Z" fill="#474747"/>
<polyline points="291.2,311.3 315.5,311.3 377,304.3 412.8,301" fill="none" stroke="#474747" stroke-width="1.1"/>
<path d="M412.8,301.0 L406.0,303.8 L405.6,299.5 Z" fill="#474747"/>
<polyline points="293,345.2 310.5,345.2 507,302.4" fill="none" stroke="#474747" stroke-width="1.1"/>
<path d="M507.0,302.4 L500.6,306.0 L499.7,301.7 Z" fill="#474747"/>
<polyline points="299.2,369.7 373.2,364 412.8,360.3" fill="none" stroke="#474747" stroke-width="1.1"/>
<path d="M412.8,360.3 L406.0,363.1 L405.6,358.8 Z" fill="#474747"/>
<polyline points="303.5,411.3 318.5,411.3 368.2,382.5" fill="none" stroke="#474747" stroke-width="1.1"/>
<path d="M368.2,382.5 L363.2,387.9 L361.0,384.1 Z" fill="#474747"/>
<polyline points="312.5,435.2 329.3,435.2 514,353.2" fill="none" stroke="#474747" stroke-width="1.1"/>
<path d="M514.0,353.2 L508.5,358.1 L506.7,354.0 Z" fill="#474747"/>
<polyline points="309.2,475.3 324.3,475.3 480.3,422.5" fill="none" stroke="#474747" stroke-width="1.1"/>
<path d="M480.3,422.5 L474.4,426.8 L473.0,422.7 Z" fill="#474747"/>
<polyline points="332.5,664.9 348.2,664.9 371.2,634.6" fill="none" stroke="#474747" stroke-width="1.1"/>
<path d="M371.2,634.6 L368.7,641.5 L365.2,638.8 Z" fill="#474747"/>
<polyline points="375,698.4 390.4,698.4 394.2,637.8" fill="none" stroke="#474747" stroke-width="1.1"/>
<path d="M394.2,637.8 L396.0,644.9 L391.6,644.6 Z" fill="#474747"/>
<polyline points="438.5,697.3 423.5,697.3 414,635.7" fill="none" stroke="#474747" stroke-width="1.1"/>
<path d="M414.0,635.7 L417.2,642.3 L412.9,643.0 Z" fill="#474747"/>
<polyline points="555.6,698.1 540,698.1 538.7,638.5" fill="none" stroke="#474747" stroke-width="1.1"/>
<path d="M538.7,638.5 L541.1,645.5 L536.7,645.5 Z" fill="#474747"/>
<polyline points="575.8,678.5 560.1,678.5 558.8,641.3" fill="none" stroke="#474747" stroke-width="1.1"/>
<path d="M558.8,641.3 L561.2,648.2 L556.8,648.4 Z" fill="#474747"/>
<polyline points="677.9,682.2 660.3,682.2 649.8,636.3" fill="none" stroke="#474747" stroke-width="1.1"/>
<path d="M649.8,636.3 L653.5,642.6 L649.2,643.6 Z" fill="#474747"/>
<polyline points="753.4,104.7 735.3,104.7 650,80.1 608.2,67.3" fill="none" stroke="#474747" stroke-width="1.1"/>
<path d="M608.2,67.3 L615.5,67.2 L614.2,71.5 Z" fill="#474747"/>
<polyline points="780.4,180.4 762.9,180.4 650,146.5 608.2,133" fill="none" stroke="#474747" stroke-width="1.1"/>
<path d="M608.2,133.0 L615.5,133.1 L614.2,137.2 Z" fill="#474747"/>
<polyline points="766.6,234.3 732.8,234.3 645,237.6 610,237.8" fill="none" stroke="#474747" stroke-width="1.1"/>
<path d="M610.0,237.8 L617.0,235.6 L617.0,240.0 Z" fill="#474747"/>
<polyline points="779.2,271 669.6,266.4" fill="none" stroke="#474747" stroke-width="1.1"/>
<path d="M669.6,266.4 L676.7,264.5 L676.5,268.9 Z" fill="#474747"/>
<polyline points="765.4,330.4 746.6,330.4 643.8,309.6 604.7,301.7" fill="none" stroke="#474747" stroke-width="1.1"/>
<path d="M604.7,301.7 L612.0,300.9 L611.1,305.2 Z" fill="#474747"/>
<polyline points="757.4,378.3 745.3,378.3 659.6,368" fill="none" stroke="#474747" stroke-width="1.1"/>
<path d="M659.6,368.0 L666.8,366.7 L666.3,371.0 Z" fill="#474747"/>
<polyline points="770.4,403.9 754.1,403.9 640,366.3 604.7,355" fill="none" stroke="#474747" stroke-width="1.1"/>
<path d="M604.7,355.0 L612.0,355.0 L610.7,359.2 Z" fill="#474747"/>
<polyline points="725.3,450.3 711.5,450.3 640,436.5 556.4,419.9" fill="none" stroke="#474747" stroke-width="1.1"/>
<path d="M556.4,419.9 L563.7,419.1 L562.8,423.4 Z" fill="#474747"/>
</svg></body></html>
